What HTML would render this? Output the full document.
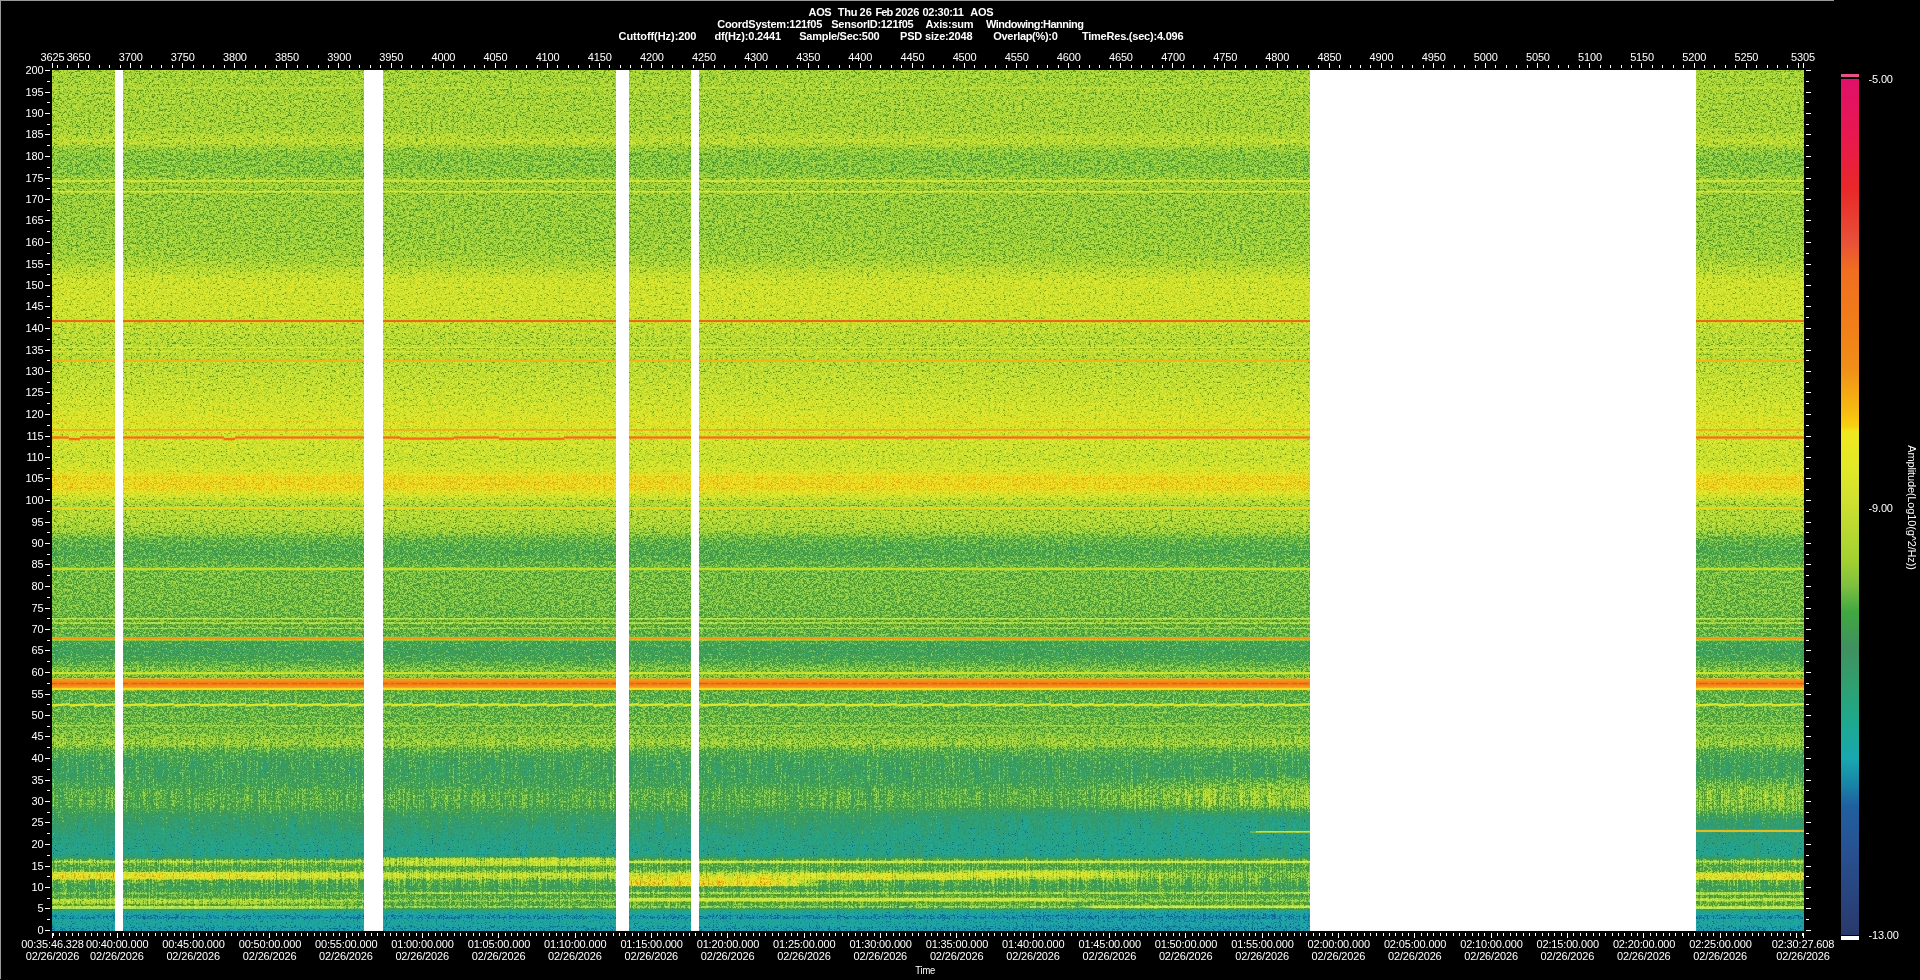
<!DOCTYPE html>
<html><head><meta charset="utf-8"><title>Spectrogram</title>
<style>
html,body{margin:0;padding:0;background:#000;}
body{width:1920px;height:980px;position:relative;overflow:hidden;font-family:"Liberation Sans",sans-serif;}
#ov{position:absolute;left:0;top:0}
#ov text{font-family:"Liberation Sans",sans-serif;font-size:11px;fill:#fff;letter-spacing:-0.15px}
#ov rect{shape-rendering:crispEdges}
.cb{position:absolute;left:1841px;top:79px;width:18px;height:856px;background:linear-gradient(to bottom,rgb(224,16,106) 0.00%,rgb(232,24,80) 6.54%,rgb(232,40,40) 12.85%,rgb(232,80,56) 18.93%,rgb(240,110,32) 22.31%,rgb(240,128,24) 29.32%,rgb(240,144,24) 34.00%,rgb(248,192,16) 39.25%,rgb(248,208,16) 40.54%,rgb(240,232,32) 41.24%,rgb(224,232,40) 45.68%,rgb(208,224,48) 49.18%,rgb(160,208,48) 56.43%,rgb(128,192,64) 59.11%,rgb(64,168,64) 62.27%,rgb(64,144,96) 66.47%,rgb(48,160,112) 70.91%,rgb(32,168,136) 74.30%,rgb(24,168,176) 79.32%,rgb(24,136,168) 82.13%,rgb(32,96,160) 84.93%,rgb(40,80,144) 90.54%,rgb(40,60,112) 98.95%,rgb(40,56,108) 100.00%)}
</style></head><body>
<div style="position:absolute;left:0;top:0;width:1834px;height:1px;background:#999"></div>
<div style="position:absolute;left:0;top:0;width:1px;height:979px;background:#999"></div>
<div style="position:absolute;left:52px;top:70px;width:1752px;height:861px;overflow:hidden;background:#9c3"><svg style="position:absolute;left:-5px;top:-5px" width="1762" height="871" viewBox="-5 -5 1762 871">
<defs>
<linearGradient id="g0" gradientUnits="userSpaceOnUse" x1="0" y1="0" x2="564" y2="0"><stop offset="0.0000" stop-color="#50cce6" stop-opacity="0.9"/><stop offset="0.3511" stop-color="#50cce6" stop-opacity="0.85"/><stop offset="0.4397" stop-color="#50cce6" stop-opacity="0.4"/><stop offset="0.5532" stop-color="#50cce6" stop-opacity="0.3"/><stop offset="0.5869" stop-color="#50cce6" stop-opacity="0"/><stop offset="1.0000" stop-color="#50cce6" stop-opacity="0"/></linearGradient><linearGradient id="g1" gradientUnits="userSpaceOnUse" x1="0" y1="0" x2="208" y2="0"><stop offset="0.0000" stop-color="#55cce6" stop-opacity="0.5"/><stop offset="0.8558" stop-color="#55cce6" stop-opacity="0.6"/><stop offset="1.0000" stop-color="#55cce6" stop-opacity="0"/></linearGradient><linearGradient id="g2" gradientUnits="userSpaceOnUse" x1="577" y1="0" x2="778" y2="0"><stop offset="0.0000" stop-color="#52cce6" stop-opacity="0.85"/><stop offset="0.7512" stop-color="#52cce6" stop-opacity="0.8"/><stop offset="1.0000" stop-color="#52cce6" stop-opacity="0"/></linearGradient><linearGradient id="g3" gradientUnits="userSpaceOnUse" x1="577" y1="0" x2="748" y2="0"><stop offset="0.0000" stop-color="#63cce6" stop-opacity="0.6"/><stop offset="0.7661" stop-color="#63cce6" stop-opacity="0.5"/><stop offset="1.0000" stop-color="#63cce6" stop-opacity="0"/></linearGradient><linearGradient id="g4" gradientUnits="userSpaceOnUse" x1="728" y1="0" x2="948" y2="0"><stop offset="0.0000" stop-color="#50cce6" stop-opacity="0"/><stop offset="0.2273" stop-color="#50cce6" stop-opacity="0.75"/><stop offset="0.8182" stop-color="#50cce6" stop-opacity="0.7"/><stop offset="1.0000" stop-color="#50cce6" stop-opacity="0"/></linearGradient><linearGradient id="g5" gradientUnits="userSpaceOnUse" x1="888" y1="0" x2="1128" y2="0"><stop offset="0.0000" stop-color="#4acce6" stop-opacity="0"/><stop offset="0.1667" stop-color="#4acce6" stop-opacity="0.7"/><stop offset="0.6250" stop-color="#4acce6" stop-opacity="0.6"/><stop offset="1.0000" stop-color="#4acce6" stop-opacity="0"/></linearGradient><linearGradient id="g6" gradientUnits="userSpaceOnUse" x1="1644" y1="0" x2="1752" y2="0"><stop offset="0.0000" stop-color="#50cce6" stop-opacity="0.95"/><stop offset="1.0000" stop-color="#50cce6" stop-opacity="0.95"/></linearGradient><linearGradient id="g7" gradientUnits="userSpaceOnUse" x1="1644" y1="0" x2="1752" y2="0"><stop offset="0.0000" stop-color="#4eb2cc" stop-opacity="0.75"/><stop offset="1.0000" stop-color="#4eb2cc" stop-opacity="0.75"/></linearGradient><linearGradient id="g8" gradientUnits="userSpaceOnUse" x1="1644" y1="0" x2="1752" y2="0"><stop offset="0.0000" stop-color="#4fb2cc" stop-opacity="0.8"/><stop offset="1.0000" stop-color="#4fb2cc" stop-opacity="0.8"/></linearGradient><linearGradient id="g9" gradientUnits="userSpaceOnUse" x1="1644" y1="0" x2="1752" y2="0"><stop offset="0.0000" stop-color="#659980" stop-opacity="0.85"/><stop offset="1.0000" stop-color="#659980" stop-opacity="0.85"/></linearGradient><linearGradient id="g10" gradientUnits="userSpaceOnUse" x1="331" y1="0" x2="564" y2="0"><stop offset="0.0000" stop-color="#43cce6" stop-opacity="0.7"/><stop offset="1.0000" stop-color="#43cce6" stop-opacity="0.7"/></linearGradient><linearGradient id="g11" gradientUnits="userSpaceOnUse" x1="577" y1="0" x2="1258" y2="0"><stop offset="0.0000" stop-color="#29cc99" stop-opacity="0.55"/><stop offset="1.0000" stop-color="#29cc99" stop-opacity="0.55"/></linearGradient><linearGradient id="g12" gradientUnits="userSpaceOnUse" x1="577" y1="0" x2="1258" y2="0"><stop offset="0.0000" stop-color="#72664c" stop-opacity="0.85"/><stop offset="1.0000" stop-color="#72664c" stop-opacity="0.85"/></linearGradient><linearGradient id="g13" gradientUnits="userSpaceOnUse" x1="577" y1="0" x2="1058" y2="0"><stop offset="0.0000" stop-color="#6f804c" stop-opacity="0.9"/><stop offset="0.8753" stop-color="#6f804c" stop-opacity="0.85"/><stop offset="1.0000" stop-color="#6f804c" stop-opacity="0"/></linearGradient><linearGradient id="g14" gradientUnits="userSpaceOnUse" x1="0" y1="0" x2="312" y2="0"><stop offset="0.0000" stop-color="#40cce6" stop-opacity="0.7"/><stop offset="0.6346" stop-color="#40cce6" stop-opacity="0.6"/><stop offset="1.0000" stop-color="#40cce6" stop-opacity="0.2"/></linearGradient><linearGradient id="g15" gradientUnits="userSpaceOnUse" x1="1033" y1="0" x2="1258" y2="0"><stop offset="0.0000" stop-color="#738033" stop-opacity="0"/><stop offset="0.0444" stop-color="#738033" stop-opacity="0.9"/><stop offset="1.0000" stop-color="#738033" stop-opacity="0.9"/></linearGradient><linearGradient id="g16" gradientUnits="userSpaceOnUse" x1="0" y1="0" x2="312" y2="0"><stop offset="0.0000" stop-color="#69994c" stop-opacity="0.8"/><stop offset="0.4744" stop-color="#69994c" stop-opacity="0.7"/><stop offset="1.0000" stop-color="#69994c" stop-opacity="0.3"/></linearGradient><linearGradient id="g17" gradientUnits="userSpaceOnUse" x1="331" y1="0" x2="1258" y2="0"><stop offset="0.0000" stop-color="#41ffcc" stop-opacity="0.5"/><stop offset="1.0000" stop-color="#41ffcc" stop-opacity="0.6"/></linearGradient><linearGradient id="g18" gradientUnits="userSpaceOnUse" x1="1198" y1="0" x2="1258" y2="0"><stop offset="0.0000" stop-color="#854c00" stop-opacity="0"/><stop offset="0.1333" stop-color="#854c00" stop-opacity="0.95"/><stop offset="1.0000" stop-color="#854c00" stop-opacity="0.95"/></linearGradient><linearGradient id="g19" gradientUnits="userSpaceOnUse" x1="998" y1="0" x2="1258" y2="0"><stop offset="0.0000" stop-color="#33ffe6" stop-opacity="0"/><stop offset="0.7692" stop-color="#33ffe6" stop-opacity="0.10822"/><stop offset="1.0000" stop-color="#33ffe6" stop-opacity="0.139719"/></linearGradient><linearGradient id="g20" gradientUnits="userSpaceOnUse" x1="998" y1="0" x2="1258" y2="0"><stop offset="0.0000" stop-color="#33ffe6" stop-opacity="0"/><stop offset="0.7692" stop-color="#33ffe6" stop-opacity="0.10822"/><stop offset="1.0000" stop-color="#33ffe6" stop-opacity="0.139719"/></linearGradient><linearGradient id="g21" gradientUnits="userSpaceOnUse" x1="998" y1="0" x2="1258" y2="0"><stop offset="0.0000" stop-color="#33ffe6" stop-opacity="0"/><stop offset="0.7692" stop-color="#33ffe6" stop-opacity="0.10822"/><stop offset="1.0000" stop-color="#33ffe6" stop-opacity="0.139719"/></linearGradient><linearGradient id="g22" gradientUnits="userSpaceOnUse" x1="998" y1="0" x2="1258" y2="0"><stop offset="0.0000" stop-color="#33ffe6" stop-opacity="0"/><stop offset="0.7692" stop-color="#33ffe6" stop-opacity="0.10822"/><stop offset="1.0000" stop-color="#33ffe6" stop-opacity="0.139719"/></linearGradient><linearGradient id="g23" gradientUnits="userSpaceOnUse" x1="998" y1="0" x2="1258" y2="0"><stop offset="0.0000" stop-color="#33ffe6" stop-opacity="0"/><stop offset="0.7692" stop-color="#33ffe6" stop-opacity="0.10822"/><stop offset="1.0000" stop-color="#33ffe6" stop-opacity="0.139719"/></linearGradient><linearGradient id="g24" gradientUnits="userSpaceOnUse" x1="998" y1="0" x2="1258" y2="0"><stop offset="0.0000" stop-color="#33ffe6" stop-opacity="0"/><stop offset="0.7692" stop-color="#33ffe6" stop-opacity="0.10822"/><stop offset="1.0000" stop-color="#33ffe6" stop-opacity="0.139719"/></linearGradient><linearGradient id="g25" gradientUnits="userSpaceOnUse" x1="998" y1="0" x2="1258" y2="0"><stop offset="0.0000" stop-color="#33ffe6" stop-opacity="0"/><stop offset="0.7692" stop-color="#33ffe6" stop-opacity="0.10822"/><stop offset="1.0000" stop-color="#33ffe6" stop-opacity="0.139719"/></linearGradient><linearGradient id="g26" gradientUnits="userSpaceOnUse" x1="998" y1="0" x2="1258" y2="0"><stop offset="0.0000" stop-color="#33ffe6" stop-opacity="0"/><stop offset="0.7692" stop-color="#33ffe6" stop-opacity="0.10822"/><stop offset="1.0000" stop-color="#33ffe6" stop-opacity="0.139719"/></linearGradient><linearGradient id="g27" gradientUnits="userSpaceOnUse" x1="798" y1="0" x2="1258" y2="0"><stop offset="0.0000" stop-color="#0db299" stop-opacity="0"/><stop offset="0.4348" stop-color="#0db299" stop-opacity="0.112696"/><stop offset="1.0000" stop-color="#0db299" stop-opacity="0.129449"/></linearGradient><linearGradient id="g28" gradientUnits="userSpaceOnUse" x1="798" y1="0" x2="1258" y2="0"><stop offset="0.0000" stop-color="#0db299" stop-opacity="0"/><stop offset="0.4348" stop-color="#0db299" stop-opacity="0.112696"/><stop offset="1.0000" stop-color="#0db299" stop-opacity="0.129449"/></linearGradient><linearGradient id="g29" gradientUnits="userSpaceOnUse" x1="798" y1="0" x2="1258" y2="0"><stop offset="0.0000" stop-color="#0db299" stop-opacity="0"/><stop offset="0.4348" stop-color="#0db299" stop-opacity="0.112696"/><stop offset="1.0000" stop-color="#0db299" stop-opacity="0.129449"/></linearGradient><linearGradient id="g30" gradientUnits="userSpaceOnUse" x1="798" y1="0" x2="1258" y2="0"><stop offset="0.0000" stop-color="#0db299" stop-opacity="0"/><stop offset="0.4348" stop-color="#0db299" stop-opacity="0.112696"/><stop offset="1.0000" stop-color="#0db299" stop-opacity="0.129449"/></linearGradient><linearGradient id="g31" gradientUnits="userSpaceOnUse" x1="798" y1="0" x2="1258" y2="0"><stop offset="0.0000" stop-color="#0db299" stop-opacity="0"/><stop offset="0.4348" stop-color="#0db299" stop-opacity="0.112696"/><stop offset="1.0000" stop-color="#0db299" stop-opacity="0.129449"/></linearGradient><linearGradient id="g32" gradientUnits="userSpaceOnUse" x1="798" y1="0" x2="1258" y2="0"><stop offset="0.0000" stop-color="#0c994c" stop-opacity="0"/><stop offset="0.4348" stop-color="#0c994c" stop-opacity="0.3"/><stop offset="1.0000" stop-color="#0c994c" stop-opacity="0.3"/></linearGradient><linearGradient id="g33" gradientUnits="userSpaceOnUse" x1="1644" y1="0" x2="1752" y2="0"><stop offset="0.0000" stop-color="#33ffe6" stop-opacity="0.082996"/><stop offset="1.0000" stop-color="#33ffe6" stop-opacity="0.082996"/></linearGradient><linearGradient id="g34" gradientUnits="userSpaceOnUse" x1="1644" y1="0" x2="1752" y2="0"><stop offset="0.0000" stop-color="#33ffe6" stop-opacity="0.082996"/><stop offset="1.0000" stop-color="#33ffe6" stop-opacity="0.082996"/></linearGradient><linearGradient id="g35" gradientUnits="userSpaceOnUse" x1="1644" y1="0" x2="1752" y2="0"><stop offset="0.0000" stop-color="#33ffe6" stop-opacity="0.082996"/><stop offset="1.0000" stop-color="#33ffe6" stop-opacity="0.082996"/></linearGradient><linearGradient id="g36" gradientUnits="userSpaceOnUse" x1="1644" y1="0" x2="1752" y2="0"><stop offset="0.0000" stop-color="#33ffe6" stop-opacity="0.082996"/><stop offset="1.0000" stop-color="#33ffe6" stop-opacity="0.082996"/></linearGradient><linearGradient id="g37" gradientUnits="userSpaceOnUse" x1="1644" y1="0" x2="1752" y2="0"><stop offset="0.0000" stop-color="#33ffe6" stop-opacity="0.082996"/><stop offset="1.0000" stop-color="#33ffe6" stop-opacity="0.082996"/></linearGradient><linearGradient id="g38" gradientUnits="userSpaceOnUse" x1="1644" y1="0" x2="1752" y2="0"><stop offset="0.0000" stop-color="#33ffe6" stop-opacity="0.082996"/><stop offset="1.0000" stop-color="#33ffe6" stop-opacity="0.082996"/></linearGradient><linearGradient id="g39" gradientUnits="userSpaceOnUse" x1="1644" y1="0" x2="1752" y2="0"><stop offset="0.0000" stop-color="#33ffe6" stop-opacity="0.082996"/><stop offset="1.0000" stop-color="#33ffe6" stop-opacity="0.082996"/></linearGradient><linearGradient id="g40" gradientUnits="userSpaceOnUse" x1="1644" y1="0" x2="1752" y2="0"><stop offset="0.0000" stop-color="#33ffe6" stop-opacity="0.082996"/><stop offset="1.0000" stop-color="#33ffe6" stop-opacity="0.082996"/></linearGradient><linearGradient id="g41" gradientUnits="userSpaceOnUse" x1="1038" y1="0" x2="1258" y2="0"><stop offset="0.0000" stop-color="#21e6cc" stop-opacity="0"/><stop offset="0.4091" stop-color="#21e6cc" stop-opacity="0.29527"/><stop offset="1.0000" stop-color="#21e6cc" stop-opacity="0.330567"/></linearGradient><linearGradient id="g42" gradientUnits="userSpaceOnUse" x1="1038" y1="0" x2="1258" y2="0"><stop offset="0.0000" stop-color="#21e6cc" stop-opacity="0"/><stop offset="0.4091" stop-color="#21e6cc" stop-opacity="0.29527"/><stop offset="1.0000" stop-color="#21e6cc" stop-opacity="0.330567"/></linearGradient><linearGradient id="g43" gradientUnits="userSpaceOnUse" x1="1038" y1="0" x2="1258" y2="0"><stop offset="0.0000" stop-color="#21e6cc" stop-opacity="0"/><stop offset="0.4091" stop-color="#21e6cc" stop-opacity="0.29527"/><stop offset="1.0000" stop-color="#21e6cc" stop-opacity="0.330567"/></linearGradient>
<linearGradient id="pg" gradientUnits="userSpaceOnUse" x1="0" y1="0" x2="0" y2="861"><stop offset="0.0006" stop-color="#52ff00"/><stop offset="0.0705" stop-color="#52ff00"/><stop offset="0.0780" stop-color="#58ff00"/><stop offset="0.0840" stop-color="#5aff00"/><stop offset="0.0905" stop-color="#4fff00"/><stop offset="0.1005" stop-color="#49ff00"/><stop offset="0.1204" stop-color="#4aff00"/><stop offset="0.1254" stop-color="#4fff00"/><stop offset="0.1404" stop-color="#4fff00"/><stop offset="0.1454" stop-color="#4eff00"/><stop offset="0.1904" stop-color="#4eff00"/><stop offset="0.2003" stop-color="#4fff00"/><stop offset="0.2153" stop-color="#50ff00"/><stop offset="0.2253" stop-color="#54ff00"/><stop offset="0.2353" stop-color="#5bff00"/><stop offset="0.2453" stop-color="#62ff00"/><stop offset="0.2503" stop-color="#62ff00"/><stop offset="0.2753" stop-color="#62ff00"/><stop offset="0.2877" stop-color="#60ff00"/><stop offset="0.3002" stop-color="#5bff00"/><stop offset="0.3152" stop-color="#58ff00"/><stop offset="0.3302" stop-color="#58ff00"/><stop offset="0.3502" stop-color="#5bff00"/><stop offset="0.3751" stop-color="#5fff00"/><stop offset="0.4001" stop-color="#65ff00"/><stop offset="0.4151" stop-color="#68ff00"/><stop offset="0.4351" stop-color="#62ff00"/><stop offset="0.4501" stop-color="#5fff00"/><stop offset="0.4650" stop-color="#65ff00"/><stop offset="0.4725" stop-color="#72ff00"/><stop offset="0.4850" stop-color="#73ff00"/><stop offset="0.4925" stop-color="#68ff00"/><stop offset="0.5000" stop-color="#5bff00"/><stop offset="0.5050" stop-color="#53ff00"/><stop offset="0.5150" stop-color="#57ff00"/><stop offset="0.5200" stop-color="#57ff00"/><stop offset="0.5350" stop-color="#50ff00"/><stop offset="0.5449" stop-color="#43ff00"/><stop offset="0.5599" stop-color="#3dff00"/><stop offset="0.5699" stop-color="#40ff00"/><stop offset="0.5759" stop-color="#43ff00"/><stop offset="0.5799" stop-color="#45ff00"/><stop offset="0.5999" stop-color="#46ff00"/><stop offset="0.6249" stop-color="#45ff00"/><stop offset="0.6448" stop-color="#40ff00"/><stop offset="0.6548" stop-color="#42ff00"/><stop offset="0.6648" stop-color="#3bff00"/><stop offset="0.6748" stop-color="#37ff00"/><stop offset="0.6848" stop-color="#3bff00"/><stop offset="0.6948" stop-color="#47ff00"/><stop offset="0.6998" stop-color="#4aff00"/><stop offset="0.7247" stop-color="#40ff00"/><stop offset="0.7297" stop-color="#40ff00"/><stop offset="0.7497" stop-color="#43ff00"/><stop offset="0.7647" stop-color="#45ff00"/><stop offset="0.7747" stop-color="#41ff38"/><stop offset="0.7822" stop-color="#40ff62"/><stop offset="0.7897" stop-color="#2aff8c"/><stop offset="0.7997" stop-color="#22ff8c"/><stop offset="0.8146" stop-color="#1fff8c"/><stop offset="0.8296" stop-color="#22ff8c"/><stop offset="0.8396" stop-color="#2bf28c"/><stop offset="0.8546" stop-color="#2cdf8c"/><stop offset="0.8646" stop-color="#23d98c"/><stop offset="0.8746" stop-color="#1dd98c"/><stop offset="0.8895" stop-color="#15d98c"/><stop offset="0.8995" stop-color="#12d98c"/><stop offset="0.9095" stop-color="#0fd98c"/><stop offset="0.9145" stop-color="#17d98c"/><stop offset="0.9175" stop-color="#1ed9ff"/><stop offset="0.9195" stop-color="#3bd9ff"/><stop offset="0.9215" stop-color="#21d9ff"/><stop offset="0.9270" stop-color="#2ad98c"/><stop offset="0.9305" stop-color="#21d9ff"/><stop offset="0.9335" stop-color="#3bd9ff"/><stop offset="0.9375" stop-color="#3bd9ff"/><stop offset="0.9410" stop-color="#1ed9ff"/><stop offset="0.9495" stop-color="#27d98c"/><stop offset="0.9545" stop-color="#2ad98c"/><stop offset="0.9560" stop-color="#3ad98c"/><stop offset="0.9580" stop-color="#2ad98c"/><stop offset="0.9625" stop-color="#30d98c"/><stop offset="0.9645" stop-color="#3dd98c"/><stop offset="0.9670" stop-color="#2dd98c"/><stop offset="0.9705" stop-color="#30d98c"/><stop offset="0.9720" stop-color="#43d98c"/><stop offset="0.9739" stop-color="#27d98c"/><stop offset="0.9759" stop-color="#259940"/><stop offset="0.9794" stop-color="#1e9940"/><stop offset="0.9829" stop-color="#119940"/><stop offset="0.9854" stop-color="#109940"/><stop offset="0.9874" stop-color="#1e9940"/><stop offset="0.9919" stop-color="#1e9940"/><stop offset="0.9954" stop-color="#159940"/><stop offset="0.9994" stop-color="#159940"/></linearGradient>
<filter id="cm" x="-5" y="-5" width="1762" height="871" filterUnits="userSpaceOnUse" color-interpolation-filters="sRGB">
<feTurbulence type="fractalNoise" baseFrequency="0.78 0.82" numOctaves="1" seed="7" result="na"/>
<feTurbulence type="fractalNoise" baseFrequency="0.33 0.36" numOctaves="1" seed="11" result="nb"/>
<feComposite in="na" in2="nb" operator="arithmetic" k1="0" k2="0.62" k3="0.38" k4="0" result="n"/>
<feColorMatrix in="n" type="matrix" values="1 0 0 0 0  1 0 0 0 0  1 0 0 0 0  0 0 0 0 1" result="ng0"/>
<feComponentTransfer in="ng0" result="ng"><feFuncR type="table" tableValues="0.000 0.000 0.000 0.000 0.000 0.000 0.000 0.000 0.000 0.000 0.000 0.000 0.000 0.000 0.000 0.000 0.000 0.000 0.000 0.000 0.006 0.011 0.037 0.111 0.181 0.247 0.308 0.365 0.418 0.468 0.514 0.558 0.599 0.638 0.674 0.709 0.741 0.772 0.802 0.830 0.857 0.883 0.908 0.931 0.954 0.976 0.992 1.000 1.000 1.000 1.000 1.000 1.000 1.000 1.000 1.000 1.000 1.000 1.000 1.000 1.000 1.000 1.000 1.000 1.000"/><feFuncG type="table" tableValues="0.000 0.000 0.000 0.000 0.000 0.000 0.000 0.000 0.000 0.000 0.000 0.000 0.000 0.000 0.000 0.000 0.000 0.000 0.000 0.000 0.006 0.011 0.037 0.111 0.181 0.247 0.308 0.365 0.418 0.468 0.514 0.558 0.599 0.638 0.674 0.709 0.741 0.772 0.802 0.830 0.857 0.883 0.908 0.931 0.954 0.976 0.992 1.000 1.000 1.000 1.000 1.000 1.000 1.000 1.000 1.000 1.000 1.000 1.000 1.000 1.000 1.000 1.000 1.000 1.000"/><feFuncB type="table" tableValues="0.000 0.000 0.000 0.000 0.000 0.000 0.000 0.000 0.000 0.000 0.000 0.000 0.000 0.000 0.000 0.000 0.000 0.000 0.000 0.000 0.006 0.011 0.037 0.111 0.181 0.247 0.308 0.365 0.418 0.468 0.514 0.558 0.599 0.638 0.674 0.709 0.741 0.772 0.802 0.830 0.857 0.883 0.908 0.931 0.954 0.976 0.992 1.000 1.000 1.000 1.000 1.000 1.000 1.000 1.000 1.000 1.000 1.000 1.000 1.000 1.000 1.000 1.000 1.000 1.000"/></feComponentTransfer>
<feTurbulence type="fractalNoise" baseFrequency="0.7 0.035" numOctaves="2" seed="3" result="n2"/>
<feColorMatrix in="n2" type="matrix" values="1 0 0 0 0  1 0 0 0 0  1 0 0 0 0  0 0 0 0 1" result="ng2"/>
<feColorMatrix in="SourceGraphic" type="matrix" values="1 0 0 0 0  1 0 0 0 0  1 0 0 0 0  0 0 0 0 1" result="A"/>
<feColorMatrix in="SourceGraphic" type="matrix" values="0 1 0 0 0  0 1 0 0 0  0 1 0 0 0  0 0 0 0 1" result="M"/>
<feColorMatrix in="SourceGraphic" type="matrix" values="0 0 1 0 0  0 0 1 0 0  0 0 1 0 0  0 0 0 0 1" result="B"/>
<feComposite in="M" in2="ng" operator="arithmetic" k1="1" k2="0" k3="0" k4="0" result="P"/>
<feComposite in="B" in2="ng2" operator="arithmetic" k1="1" k2="0" k3="0" k4="0" result="P2"/>
<feComposite in="A" in2="P" operator="arithmetic" k1="0" k2="1" k3="0.2200" k4="0" result="s1"/>
<feComposite in="s1" in2="P2" operator="arithmetic" k1="0" k2="1" k3="0.3200" k4="0" result="s"/>
<feComponentTransfer in="s" result="c">
<feFuncR type="table" tableValues="0.157 0.157 0.157 0.157 0.157 0.157 0.157 0.157 0.157 0.157 0.157 0.157 0.157 0.153 0.149 0.144 0.140 0.135 0.131 0.127 0.119 0.111 0.102 0.094 0.094 0.094 0.094 0.097 0.102 0.106 0.111 0.116 0.121 0.127 0.141 0.156 0.170 0.185 0.197 0.208 0.219 0.230 0.241 0.251 0.251 0.251 0.251 0.251 0.251 0.295 0.357 0.419 0.481 0.526 0.563 0.599 0.632 0.652 0.673 0.693 0.713 0.734 0.754 0.774 0.794 0.815 0.829 0.843 0.857 0.871 0.884 0.895 0.906 0.917 0.928 0.939 0.969 0.973 0.971 0.967 0.962 0.957 0.953 0.948 0.943 0.941 0.941 0.941 0.941 0.941 0.941 0.941 0.941 0.941 0.941 0.941 0.941 0.941 0.941 0.941 0.937 0.930 0.923 0.915 0.910 0.910 0.910 0.910 0.910 0.910 0.910 0.910 0.910 0.910 0.910 0.910 0.910 0.910 0.910 0.910 0.908 0.905 0.901 0.897 0.893 0.890 0.886 0.882 0.878"/>
<feFuncG type="table" tableValues="0.220 0.231 0.240 0.247 0.255 0.262 0.269 0.276 0.284 0.291 0.298 0.306 0.313 0.321 0.330 0.339 0.348 0.356 0.365 0.374 0.408 0.451 0.495 0.538 0.573 0.608 0.642 0.659 0.659 0.659 0.659 0.659 0.659 0.658 0.651 0.644 0.636 0.629 0.619 0.608 0.597 0.586 0.575 0.566 0.584 0.601 0.619 0.636 0.654 0.675 0.698 0.722 0.745 0.765 0.783 0.802 0.817 0.824 0.831 0.838 0.844 0.851 0.858 0.865 0.871 0.878 0.885 0.892 0.899 0.906 0.910 0.910 0.910 0.910 0.910 0.910 0.827 0.782 0.746 0.718 0.690 0.662 0.634 0.606 0.578 0.559 0.549 0.538 0.528 0.517 0.507 0.498 0.490 0.482 0.474 0.466 0.458 0.451 0.443 0.435 0.416 0.389 0.362 0.335 0.309 0.289 0.269 0.249 0.229 0.208 0.188 0.168 0.153 0.146 0.138 0.130 0.122 0.115 0.107 0.099 0.093 0.089 0.085 0.081 0.078 0.074 0.070 0.066 0.063"/>
<feFuncB type="table" tableValues="0.424 0.435 0.447 0.458 0.470 0.482 0.493 0.505 0.517 0.528 0.540 0.552 0.563 0.572 0.581 0.590 0.599 0.607 0.616 0.625 0.634 0.642 0.651 0.660 0.669 0.677 0.686 0.677 0.653 0.628 0.604 0.580 0.555 0.531 0.509 0.488 0.466 0.444 0.431 0.420 0.409 0.398 0.387 0.375 0.351 0.328 0.305 0.281 0.258 0.251 0.251 0.251 0.251 0.239 0.221 0.202 0.188 0.188 0.188 0.188 0.188 0.188 0.188 0.188 0.188 0.188 0.182 0.175 0.168 0.161 0.154 0.149 0.143 0.138 0.132 0.127 0.071 0.063 0.064 0.069 0.073 0.078 0.083 0.087 0.092 0.094 0.094 0.094 0.094 0.094 0.094 0.096 0.099 0.103 0.106 0.110 0.113 0.117 0.120 0.124 0.138 0.159 0.181 0.203 0.218 0.210 0.202 0.194 0.186 0.177 0.169 0.161 0.166 0.185 0.204 0.224 0.243 0.263 0.282 0.302 0.318 0.330 0.343 0.355 0.367 0.379 0.391 0.404 0.416"/>
</feComponentTransfer>
<feGaussianBlur in="c" stdDeviation="1.6" result="cb"/>
<feColorMatrix in="c" type="matrix" values="0.299 0.587 0.114 0 0  0.299 0.587 0.114 0 0  0.299 0.587 0.114 0 0  0 0 0 0 1" result="Yc"/>
<feColorMatrix in="cb" type="matrix" values="-0.299 -0.587 -0.114 0 1  -0.299 -0.587 -0.114 0 1  -0.299 -0.587 -0.114 0 1  0 0 0 0 1" result="Ncb"/>
<feComposite in="cb" in2="Yc" operator="arithmetic" k1="0" k2="0.5" k3="0.5" k4="0" result="t1"/>
<feComposite in="t1" in2="Ncb" operator="arithmetic" k1="0" k2="1" k3="0.5" k4="-0.5" result="t2"/>
<feComponentTransfer in="t2" result="fin"><feFuncR type="linear" slope="2"/><feFuncG type="linear" slope="2"/><feFuncB type="linear" slope="2"/></feComponentTransfer>
<feGaussianBlur in="fin" stdDeviation="0.35"/>
</filter>
<filter id="lb" x="-5" y="-5" width="1762" height="871" filterUnits="userSpaceOnUse"><feGaussianBlur stdDeviation="0 0.45"/></filter>
</defs>
<g filter="url(#cm)">
<rect x="-5" y="-5" width="1762" height="871" fill="url(#pg)"/>
<rect x="0" y="17.53" width="1752" height="1.20" fill="#68b200"/><rect x="0" y="110.26" width="1752" height="1.50" fill="#75b200"/><rect x="0" y="121.01" width="1752" height="1.50" fill="#72b200"/><rect x="0" y="276.92" width="1752" height="1.00" fill="#75b200"/><rect x="0" y="281.22" width="1752" height="1.00" fill="#72b200"/><rect x="0" y="350.88" width="1752" height="1.00" fill="#82b200"/><rect x="0" y="655.22" width="1752" height="1.20" fill="#60b200"/><rect x="0" y="548.10" width="1752" height="1.30" fill="#70b200"/><rect x="0" y="552.40" width="1752" height="1.30" fill="#6db200"/><rect x="0" y="557.71" width="1752" height="1.00" fill="#65b200"/><rect x="0" y="608.73" width="1752" height="10.97" fill="#985900"/><rect x="0" y="611.53" width="1752" height="4.30" fill="#a55900"/><rect x="0" y="617.55" width="1752" height="2.15" fill="#8e4c00"/><rect x="0" y="802.02" width="564" height="7.31" fill="url(#g0)"/><rect x="0" y="803.31" width="208" height="4.73" fill="url(#g1)"/><rect x="577" y="806.32" width="201" height="9.89" fill="url(#g2)"/><rect x="577" y="811.48" width="171" height="4.30" fill="url(#g3)"/><rect x="728" y="803.74" width="220" height="6.02" fill="url(#g4)"/><rect x="888" y="800.30" width="240" height="6.02" fill="url(#g5)"/><rect x="1644" y="802.88" width="108" height="6.88" fill="url(#g6)"/><rect x="1644" y="822.23" width="108" height="2.58" fill="url(#g7)"/><rect x="1644" y="828.25" width="108" height="2.58" fill="url(#g8)"/><rect x="1644" y="836.42" width="108" height="2.58" fill="url(#g9)"/><rect x="331" y="787.40" width="233" height="8.60" fill="url(#g10)"/><rect x="577" y="787.40" width="681" height="8.60" fill="url(#g11)"/><rect x="577" y="790.84" width="681" height="2.36" fill="url(#g12)"/><rect x="577" y="827.82" width="481" height="3.44" fill="url(#g13)"/><rect x="0" y="828.68" width="312" height="5.16" fill="url(#g14)"/><rect x="1033" y="835.56" width="225" height="2.58" fill="url(#g15)"/><rect x="0" y="835.99" width="312" height="3.01" fill="url(#g16)"/><rect x="331" y="821.80" width="927" height="2.15" fill="url(#g17)"/><rect x="1198" y="760.95" width="60" height="1.72" fill="url(#g18)"/><rect x="998" y="705.70" width="260" height="43.00" fill="url(#g19)"/><rect x="998" y="707.91" width="260" height="38.58" fill="url(#g20)"/><rect x="998" y="710.12" width="260" height="34.15" fill="url(#g21)"/><rect x="998" y="712.33" width="260" height="29.73" fill="url(#g22)"/><rect x="998" y="714.55" width="260" height="25.31" fill="url(#g23)"/><rect x="998" y="716.76" width="260" height="20.89" fill="url(#g24)"/><rect x="998" y="718.97" width="260" height="16.46" fill="url(#g25)"/><rect x="998" y="721.18" width="260" height="12.04" fill="url(#g26)"/><rect x="798" y="735.80" width="460" height="52.46" fill="url(#g27)"/><rect x="798" y="738.49" width="460" height="47.08" fill="url(#g28)"/><rect x="798" y="741.17" width="460" height="41.71" fill="url(#g29)"/><rect x="798" y="743.86" width="460" height="36.33" fill="url(#g30)"/><rect x="798" y="746.55" width="460" height="30.96" fill="url(#g31)"/><rect x="798" y="839.86" width="460" height="20.64" fill="url(#g32)"/><rect x="1644" y="705.70" width="108" height="43.00" fill="url(#g33)"/><rect x="1644" y="707.91" width="108" height="38.58" fill="url(#g34)"/><rect x="1644" y="710.12" width="108" height="34.15" fill="url(#g35)"/><rect x="1644" y="712.33" width="108" height="29.73" fill="url(#g36)"/><rect x="1644" y="714.55" width="108" height="25.31" fill="url(#g37)"/><rect x="1644" y="716.76" width="108" height="20.89" fill="url(#g38)"/><rect x="1644" y="718.97" width="108" height="16.46" fill="url(#g39)"/><rect x="1644" y="721.18" width="108" height="12.04" fill="url(#g40)"/><rect x="1038" y="800.30" width="220" height="10.75" fill="url(#g41)"/><rect x="1038" y="801.38" width="220" height="8.60" fill="url(#g42)"/><rect x="1038" y="802.45" width="220" height="6.45" fill="url(#g43)"/>
</g>
<g filter="url(#lb)"><rect x="0" y="249.32" width="1752" height="3.40" fill="#f4c820" opacity="0.5"/><rect x="0" y="250.17" width="1752" height="1.70" fill="#e85c18"/><rect x="0" y="289.65" width="1752" height="2.20" fill="#f4b418" opacity="0.95"/><rect x="0" y="359.28" width="1752" height="1.40" fill="#f09818" opacity="0.8"/><rect x="0" y="365.40" width="17" height="4.20" fill="#f4c020" opacity="0.4"/><rect x="0" y="366.40" width="17" height="2.20" fill="#f07014"/><rect x="17" y="367.00" width="11" height="4.20" fill="#f4c020" opacity="0.4"/><rect x="17" y="368.00" width="11" height="2.20" fill="#f07014"/><rect x="28" y="365.40" width="144" height="4.20" fill="#f4c020" opacity="0.4"/><rect x="28" y="366.40" width="144" height="2.20" fill="#f07014"/><rect x="172" y="366.90" width="11" height="4.20" fill="#f4c020" opacity="0.4"/><rect x="172" y="367.90" width="11" height="2.20" fill="#f07014"/><rect x="183" y="365.40" width="165" height="4.20" fill="#f4c020" opacity="0.4"/><rect x="183" y="366.40" width="165" height="2.20" fill="#f07014"/><rect x="348" y="366.50" width="54" height="4.20" fill="#f4c020" opacity="0.4"/><rect x="348" y="367.50" width="54" height="2.20" fill="#f07014"/><rect x="402" y="365.40" width="45" height="4.20" fill="#f4c020" opacity="0.4"/><rect x="402" y="366.40" width="45" height="2.20" fill="#f07014"/><rect x="447" y="366.70" width="65" height="4.20" fill="#f4c020" opacity="0.4"/><rect x="447" y="367.70" width="65" height="2.20" fill="#f07014"/><rect x="512" y="365.40" width="341" height="4.20" fill="#f4c020" opacity="0.4"/><rect x="512" y="366.40" width="341" height="2.20" fill="#f07014"/><rect x="853" y="366.40" width="3" height="4.20" fill="#f4c020" opacity="0.4"/><rect x="853" y="367.40" width="3" height="2.20" fill="#f07014"/><rect x="856" y="365.40" width="896" height="4.20" fill="#f4c020" opacity="0.4"/><rect x="856" y="366.40" width="896" height="2.20" fill="#f07014"/><rect x="0" y="436.94" width="1752" height="2.60" fill="#ecd420" opacity="0.9"/><rect x="0" y="497.70" width="1752" height="2.60" fill="#cce424" opacity="0.85"/><rect x="0" y="566.75" width="1752" height="4.00" fill="#e0e828" opacity="0.6"/><rect x="0" y="567.42" width="1752" height="1.80" fill="#f09818"/><rect x="0" y="602.10" width="1752" height="2.00" fill="#d8e828" opacity="0.9"/><rect x="0" y="608.60" width="1752" height="9.20" fill="#f29220" opacity="0.8"/><rect x="0" y="611.60" width="1752" height="3.80" fill="#f07a16" opacity="0.8"/><path d="M0 613.60H1752" stroke="#d84c10" stroke-width="1" stroke-dasharray="5 2 9 3 3 2 12 4" opacity="0.7"/><rect x="0" y="617.80" width="1752" height="2.10" fill="#f2dc20" opacity="0.85"/><path d="M0.0 635.45L18.0 634.15M18.0 635.45L42.5 634.15M42.5 635.45L68.2 634.15M68.2 635.45L94.5 634.15M94.5 635.45L122.2 634.15M122.2 635.45L147.9 634.15M147.9 635.45L175.4 634.15M175.4 635.45L194.0 634.15M194.0 635.45L217.0 634.15M217.0 635.45L244.7 634.15M244.7 635.45L269.5 634.15M269.5 635.45L296.8 634.15M296.8 635.45L316.3 634.15M316.3 635.45L339.2 634.15M339.2 635.45L360.0 634.15M360.0 635.45L383.8 634.15M383.8 635.45L407.8 634.15M407.8 635.45L426.2 634.15M426.2 635.45L446.7 634.15M446.7 635.45L467.8 634.15M467.8 635.45L495.2 634.15M495.2 635.45L521.2 634.15M521.2 635.45L541.1 634.15M541.1 635.45L567.4 634.15M567.4 635.45L587.1 634.15M587.1 635.45L611.5 634.15M611.5 635.45L631.1 634.15M631.1 635.45L649.4 634.15M649.4 635.45L676.4 634.15M676.4 635.45L696.8 634.15M696.8 635.45L717.3 634.15M717.3 635.45L745.4 634.15M745.4 635.45L772.4 634.15M772.4 635.45L793.6 634.15M793.6 635.45L821.5 634.15M821.5 635.45L845.2 634.15M845.2 635.45L870.3 634.15M870.3 635.45L890.7 634.15M890.7 635.45L918.4 634.15M918.4 635.45L943.6 634.15M943.6 635.45L971.5 634.15M971.5 635.45L998.8 634.15M998.8 635.45L1020.1 634.15M1020.1 635.45L1042.0 634.15M1042.0 635.45L1061.9 634.15M1061.9 635.45L1081.7 634.15M1081.7 635.45L1100.6 634.15M1100.6 635.45L1122.0 634.15M1122.0 635.45L1146.3 634.15M1146.3 635.45L1164.6 634.15M1164.6 635.45L1189.7 634.15M1189.7 635.45L1211.4 634.15M1211.4 635.45L1232.8 634.15M1232.8 635.45L1259.3 634.15M1259.3 635.45L1282.4 634.15M1282.4 635.45L1303.8 634.15M1303.8 635.45L1326.9 634.15M1326.9 635.45L1352.3 634.15M1352.3 635.45L1371.2 634.15M1371.2 635.45L1399.2 634.15M1399.2 635.45L1417.7 634.15M1417.7 635.45L1443.5 634.15M1443.5 635.45L1470.3 634.15M1470.3 635.45L1488.8 634.15M1488.8 635.45L1514.9 634.15M1514.9 635.45L1536.9 634.15M1536.9 635.45L1561.0 634.15M1561.0 635.45L1579.4 634.15M1579.4 635.45L1598.1 634.15M1598.1 635.45L1618.3 634.15M1618.3 635.45L1646.1 634.15M1646.1 635.45L1666.4 634.15M1666.4 635.45L1692.2 634.15M1692.2 635.45L1719.8 634.15M1719.8 635.45L1752.0 634.15" stroke="#e2ea28" stroke-width="2.4" fill="none" opacity="0.95"/><path d="M17.5 634.75v-7.4M42.0 634.75v-7.4M67.7 634.75v-8.1M94.0 634.75v-9.1M121.7 634.75v-6.4M147.4 634.75v-9.0M174.9 634.75v-9.2M193.5 634.75v-9.4M216.5 634.75v-6.1M244.2 634.75v-9.8M269.0 634.75v-6.4M296.3 634.75v-7.4M315.8 634.75v-8.4M338.7 634.75v-9.7M359.5 634.75v-7.4M383.3 634.75v-9.7M407.3 634.75v-8.2M425.7 634.75v-7.2M446.2 634.75v-7.3M467.3 634.75v-6.7M494.7 634.75v-6.3M520.7 634.75v-6.6M540.6 634.75v-8.8M566.9 634.75v-10.0M586.6 634.75v-6.6M611.0 634.75v-6.2M630.6 634.75v-9.9M648.9 634.75v-8.1M675.9 634.75v-7.6M696.3 634.75v-6.9M716.8 634.75v-8.4M744.9 634.75v-9.3M771.9 634.75v-7.8M793.1 634.75v-7.7M821.0 634.75v-6.2M844.7 634.75v-9.7M869.8 634.75v-6.1M890.2 634.75v-8.0M917.9 634.75v-9.4M943.1 634.75v-6.5M971.0 634.75v-8.9M998.3 634.75v-9.8M1019.6 634.75v-8.5M1041.5 634.75v-9.2M1061.4 634.75v-6.4M1081.2 634.75v-7.7M1100.1 634.75v-6.6M1121.5 634.75v-9.4M1145.8 634.75v-7.2M1164.1 634.75v-7.8M1189.2 634.75v-10.0M1210.9 634.75v-9.4M1232.3 634.75v-9.9M1258.8 634.75v-7.8M1281.9 634.75v-8.0M1303.3 634.75v-8.9M1326.4 634.75v-7.9M1351.8 634.75v-7.2M1370.7 634.75v-7.6M1398.7 634.75v-6.6M1417.2 634.75v-7.5M1443.0 634.75v-10.0M1469.8 634.75v-9.8M1488.3 634.75v-8.5M1514.4 634.75v-8.0M1536.4 634.75v-7.4M1560.5 634.75v-6.4M1578.9 634.75v-7.1M1597.6 634.75v-9.1M1617.8 634.75v-9.5M1645.6 634.75v-7.4M1665.9 634.75v-9.1M1691.7 634.75v-9.1M1719.3 634.75v-8.8" stroke="#b0e040" stroke-width="1" fill="none" opacity="0.75"/><rect x="1644" y="759.85" width="108" height="2.20" fill="#e8c020" opacity="0.95"/><rect x="1204" y="761.02" width="54" height="1.60" fill="#e4e428" opacity="0.9"/><rect x="1198" y="761.43" width="7" height="1.20" fill="#c8e030" opacity="0.6"/></g>
<rect x="63" y="0" width="8" height="861" fill="#fff"/><rect x="312" y="0" width="19" height="861" fill="#fff"/><rect x="564" y="0" width="13" height="861" fill="#fff"/><rect x="639" y="0" width="8" height="861" fill="#fff"/><rect x="1258" y="0" width="386" height="861" fill="#fff"/>
</svg></div>
<div class="cb"></div>
<div style="position:absolute;left:1841px;top:74px;width:18px;height:3px;background:#e8508a"></div>
<div style="position:absolute;left:1841px;top:936px;width:18px;height:4px;background:#fff"></div>
<svg id="ov" width="1920" height="980" viewBox="0 0 1920 980">
<rect x="52" y="63" width="1" height="5" fill="#fff"/><rect x="57" y="65" width="1" height="3" fill="#fff"/><rect x="67" y="65" width="1" height="3" fill="#fff"/><rect x="78" y="63" width="1" height="5" fill="#fff"/><rect x="88" y="65" width="1" height="3" fill="#fff"/><rect x="99" y="65" width="1" height="3" fill="#fff"/><rect x="109" y="65" width="1" height="3" fill="#fff"/><rect x="120" y="65" width="1" height="3" fill="#fff"/><rect x="130" y="63" width="1" height="5" fill="#fff"/><rect x="140" y="65" width="1" height="3" fill="#fff"/><rect x="151" y="65" width="1" height="3" fill="#fff"/><rect x="161" y="65" width="1" height="3" fill="#fff"/><rect x="172" y="65" width="1" height="3" fill="#fff"/><rect x="182" y="63" width="1" height="5" fill="#fff"/><rect x="193" y="65" width="1" height="3" fill="#fff"/><rect x="203" y="65" width="1" height="3" fill="#fff"/><rect x="213" y="65" width="1" height="3" fill="#fff"/><rect x="224" y="65" width="1" height="3" fill="#fff"/><rect x="234" y="63" width="1" height="5" fill="#fff"/><rect x="245" y="65" width="1" height="3" fill="#fff"/><rect x="255" y="65" width="1" height="3" fill="#fff"/><rect x="265" y="65" width="1" height="3" fill="#fff"/><rect x="276" y="65" width="1" height="3" fill="#fff"/><rect x="286" y="63" width="1" height="5" fill="#fff"/><rect x="297" y="65" width="1" height="3" fill="#fff"/><rect x="307" y="65" width="1" height="3" fill="#fff"/><rect x="318" y="65" width="1" height="3" fill="#fff"/><rect x="328" y="65" width="1" height="3" fill="#fff"/><rect x="338" y="63" width="1" height="5" fill="#fff"/><rect x="349" y="65" width="1" height="3" fill="#fff"/><rect x="359" y="65" width="1" height="3" fill="#fff"/><rect x="370" y="65" width="1" height="3" fill="#fff"/><rect x="380" y="65" width="1" height="3" fill="#fff"/><rect x="391" y="63" width="1" height="5" fill="#fff"/><rect x="401" y="65" width="1" height="3" fill="#fff"/><rect x="411" y="65" width="1" height="3" fill="#fff"/><rect x="422" y="65" width="1" height="3" fill="#fff"/><rect x="432" y="65" width="1" height="3" fill="#fff"/><rect x="443" y="63" width="1" height="5" fill="#fff"/><rect x="453" y="65" width="1" height="3" fill="#fff"/><rect x="464" y="65" width="1" height="3" fill="#fff"/><rect x="474" y="65" width="1" height="3" fill="#fff"/><rect x="484" y="65" width="1" height="3" fill="#fff"/><rect x="495" y="63" width="1" height="5" fill="#fff"/><rect x="505" y="65" width="1" height="3" fill="#fff"/><rect x="516" y="65" width="1" height="3" fill="#fff"/><rect x="526" y="65" width="1" height="3" fill="#fff"/><rect x="537" y="65" width="1" height="3" fill="#fff"/><rect x="547" y="63" width="1" height="5" fill="#fff"/><rect x="557" y="65" width="1" height="3" fill="#fff"/><rect x="568" y="65" width="1" height="3" fill="#fff"/><rect x="578" y="65" width="1" height="3" fill="#fff"/><rect x="589" y="65" width="1" height="3" fill="#fff"/><rect x="599" y="63" width="1" height="5" fill="#fff"/><rect x="609" y="65" width="1" height="3" fill="#fff"/><rect x="620" y="65" width="1" height="3" fill="#fff"/><rect x="630" y="65" width="1" height="3" fill="#fff"/><rect x="641" y="65" width="1" height="3" fill="#fff"/><rect x="651" y="63" width="1" height="5" fill="#fff"/><rect x="662" y="65" width="1" height="3" fill="#fff"/><rect x="672" y="65" width="1" height="3" fill="#fff"/><rect x="682" y="65" width="1" height="3" fill="#fff"/><rect x="693" y="65" width="1" height="3" fill="#fff"/><rect x="703" y="63" width="1" height="5" fill="#fff"/><rect x="714" y="65" width="1" height="3" fill="#fff"/><rect x="724" y="65" width="1" height="3" fill="#fff"/><rect x="735" y="65" width="1" height="3" fill="#fff"/><rect x="745" y="65" width="1" height="3" fill="#fff"/><rect x="755" y="63" width="1" height="5" fill="#fff"/><rect x="766" y="65" width="1" height="3" fill="#fff"/><rect x="776" y="65" width="1" height="3" fill="#fff"/><rect x="787" y="65" width="1" height="3" fill="#fff"/><rect x="797" y="65" width="1" height="3" fill="#fff"/><rect x="808" y="63" width="1" height="5" fill="#fff"/><rect x="818" y="65" width="1" height="3" fill="#fff"/><rect x="828" y="65" width="1" height="3" fill="#fff"/><rect x="839" y="65" width="1" height="3" fill="#fff"/><rect x="849" y="65" width="1" height="3" fill="#fff"/><rect x="860" y="63" width="1" height="5" fill="#fff"/><rect x="870" y="65" width="1" height="3" fill="#fff"/><rect x="880" y="65" width="1" height="3" fill="#fff"/><rect x="891" y="65" width="1" height="3" fill="#fff"/><rect x="901" y="65" width="1" height="3" fill="#fff"/><rect x="912" y="63" width="1" height="5" fill="#fff"/><rect x="922" y="65" width="1" height="3" fill="#fff"/><rect x="933" y="65" width="1" height="3" fill="#fff"/><rect x="943" y="65" width="1" height="3" fill="#fff"/><rect x="953" y="65" width="1" height="3" fill="#fff"/><rect x="964" y="63" width="1" height="5" fill="#fff"/><rect x="974" y="65" width="1" height="3" fill="#fff"/><rect x="985" y="65" width="1" height="3" fill="#fff"/><rect x="995" y="65" width="1" height="3" fill="#fff"/><rect x="1006" y="65" width="1" height="3" fill="#fff"/><rect x="1016" y="63" width="1" height="5" fill="#fff"/><rect x="1026" y="65" width="1" height="3" fill="#fff"/><rect x="1037" y="65" width="1" height="3" fill="#fff"/><rect x="1047" y="65" width="1" height="3" fill="#fff"/><rect x="1058" y="65" width="1" height="3" fill="#fff"/><rect x="1068" y="63" width="1" height="5" fill="#fff"/><rect x="1079" y="65" width="1" height="3" fill="#fff"/><rect x="1089" y="65" width="1" height="3" fill="#fff"/><rect x="1099" y="65" width="1" height="3" fill="#fff"/><rect x="1110" y="65" width="1" height="3" fill="#fff"/><rect x="1120" y="63" width="1" height="5" fill="#fff"/><rect x="1131" y="65" width="1" height="3" fill="#fff"/><rect x="1141" y="65" width="1" height="3" fill="#fff"/><rect x="1152" y="65" width="1" height="3" fill="#fff"/><rect x="1162" y="65" width="1" height="3" fill="#fff"/><rect x="1172" y="63" width="1" height="5" fill="#fff"/><rect x="1183" y="65" width="1" height="3" fill="#fff"/><rect x="1193" y="65" width="1" height="3" fill="#fff"/><rect x="1204" y="65" width="1" height="3" fill="#fff"/><rect x="1214" y="65" width="1" height="3" fill="#fff"/><rect x="1224" y="63" width="1" height="5" fill="#fff"/><rect x="1235" y="65" width="1" height="3" fill="#fff"/><rect x="1245" y="65" width="1" height="3" fill="#fff"/><rect x="1256" y="65" width="1" height="3" fill="#fff"/><rect x="1266" y="65" width="1" height="3" fill="#fff"/><rect x="1277" y="63" width="1" height="5" fill="#fff"/><rect x="1287" y="65" width="1" height="3" fill="#fff"/><rect x="1297" y="65" width="1" height="3" fill="#fff"/><rect x="1308" y="65" width="1" height="3" fill="#fff"/><rect x="1318" y="65" width="1" height="3" fill="#fff"/><rect x="1329" y="63" width="1" height="5" fill="#fff"/><rect x="1339" y="65" width="1" height="3" fill="#fff"/><rect x="1350" y="65" width="1" height="3" fill="#fff"/><rect x="1360" y="65" width="1" height="3" fill="#fff"/><rect x="1370" y="65" width="1" height="3" fill="#fff"/><rect x="1381" y="63" width="1" height="5" fill="#fff"/><rect x="1391" y="65" width="1" height="3" fill="#fff"/><rect x="1402" y="65" width="1" height="3" fill="#fff"/><rect x="1412" y="65" width="1" height="3" fill="#fff"/><rect x="1423" y="65" width="1" height="3" fill="#fff"/><rect x="1433" y="63" width="1" height="5" fill="#fff"/><rect x="1443" y="65" width="1" height="3" fill="#fff"/><rect x="1454" y="65" width="1" height="3" fill="#fff"/><rect x="1464" y="65" width="1" height="3" fill="#fff"/><rect x="1475" y="65" width="1" height="3" fill="#fff"/><rect x="1485" y="63" width="1" height="5" fill="#fff"/><rect x="1495" y="65" width="1" height="3" fill="#fff"/><rect x="1506" y="65" width="1" height="3" fill="#fff"/><rect x="1516" y="65" width="1" height="3" fill="#fff"/><rect x="1527" y="65" width="1" height="3" fill="#fff"/><rect x="1537" y="63" width="1" height="5" fill="#fff"/><rect x="1548" y="65" width="1" height="3" fill="#fff"/><rect x="1558" y="65" width="1" height="3" fill="#fff"/><rect x="1568" y="65" width="1" height="3" fill="#fff"/><rect x="1579" y="65" width="1" height="3" fill="#fff"/><rect x="1589" y="63" width="1" height="5" fill="#fff"/><rect x="1600" y="65" width="1" height="3" fill="#fff"/><rect x="1610" y="65" width="1" height="3" fill="#fff"/><rect x="1621" y="65" width="1" height="3" fill="#fff"/><rect x="1631" y="65" width="1" height="3" fill="#fff"/><rect x="1641" y="63" width="1" height="5" fill="#fff"/><rect x="1652" y="65" width="1" height="3" fill="#fff"/><rect x="1662" y="65" width="1" height="3" fill="#fff"/><rect x="1673" y="65" width="1" height="3" fill="#fff"/><rect x="1683" y="65" width="1" height="3" fill="#fff"/><rect x="1694" y="63" width="1" height="5" fill="#fff"/><rect x="1704" y="65" width="1" height="3" fill="#fff"/><rect x="1714" y="65" width="1" height="3" fill="#fff"/><rect x="1725" y="65" width="1" height="3" fill="#fff"/><rect x="1735" y="65" width="1" height="3" fill="#fff"/><rect x="1746" y="63" width="1" height="5" fill="#fff"/><rect x="1756" y="65" width="1" height="3" fill="#fff"/><rect x="1767" y="65" width="1" height="3" fill="#fff"/><rect x="1777" y="65" width="1" height="3" fill="#fff"/><rect x="1787" y="65" width="1" height="3" fill="#fff"/><rect x="1798" y="63" width="1" height="5" fill="#fff"/><rect x="1803" y="63" width="1" height="5" fill="#fff"/><text x="52.5" y="61.0" text-anchor="middle">3625</text><text x="78.6" y="61.0" text-anchor="middle">3650</text><text x="130.7" y="61.0" text-anchor="middle">3700</text><text x="182.8" y="61.0" text-anchor="middle">3750</text><text x="234.9" y="61.0" text-anchor="middle">3800</text><text x="287.0" y="61.0" text-anchor="middle">3850</text><text x="339.2" y="61.0" text-anchor="middle">3900</text><text x="391.3" y="61.0" text-anchor="middle">3950</text><text x="443.4" y="61.0" text-anchor="middle">4000</text><text x="495.5" y="61.0" text-anchor="middle">4050</text><text x="547.6" y="61.0" text-anchor="middle">4100</text><text x="599.7" y="61.0" text-anchor="middle">4150</text><text x="651.9" y="61.0" text-anchor="middle">4200</text><text x="704.0" y="61.0" text-anchor="middle">4250</text><text x="756.1" y="61.0" text-anchor="middle">4300</text><text x="808.2" y="61.0" text-anchor="middle">4350</text><text x="860.3" y="61.0" text-anchor="middle">4400</text><text x="912.5" y="61.0" text-anchor="middle">4450</text><text x="964.6" y="61.0" text-anchor="middle">4500</text><text x="1016.7" y="61.0" text-anchor="middle">4550</text><text x="1068.8" y="61.0" text-anchor="middle">4600</text><text x="1120.9" y="61.0" text-anchor="middle">4650</text><text x="1173.1" y="61.0" text-anchor="middle">4700</text><text x="1225.2" y="61.0" text-anchor="middle">4750</text><text x="1277.3" y="61.0" text-anchor="middle">4800</text><text x="1329.4" y="61.0" text-anchor="middle">4850</text><text x="1381.5" y="61.0" text-anchor="middle">4900</text><text x="1433.7" y="61.0" text-anchor="middle">4950</text><text x="1485.8" y="61.0" text-anchor="middle">5000</text><text x="1537.9" y="61.0" text-anchor="middle">5050</text><text x="1590.0" y="61.0" text-anchor="middle">5100</text><text x="1642.1" y="61.0" text-anchor="middle">5150</text><text x="1694.2" y="61.0" text-anchor="middle">5200</text><text x="1746.4" y="61.0" text-anchor="middle">5250</text><text x="1803.0" y="61.0" text-anchor="middle">5305</text><rect x="45" y="930" width="5" height="1" fill="#fff"/><rect x="1806" y="930" width="5" height="1" fill="#fff"/><text x="43.5" y="933.6" text-anchor="end">0</text><rect x="47" y="919" width="3" height="1" fill="#fff"/><rect x="1806" y="919" width="3" height="1" fill="#fff"/><rect x="45" y="908" width="5" height="1" fill="#fff"/><rect x="1806" y="908" width="5" height="1" fill="#fff"/><text x="43.5" y="911.6" text-anchor="end">5</text><rect x="47" y="898" width="3" height="1" fill="#fff"/><rect x="1806" y="898" width="3" height="1" fill="#fff"/><rect x="45" y="887" width="5" height="1" fill="#fff"/><rect x="1806" y="887" width="5" height="1" fill="#fff"/><text x="43.5" y="890.6" text-anchor="end">10</text><rect x="47" y="876" width="3" height="1" fill="#fff"/><rect x="1806" y="876" width="3" height="1" fill="#fff"/><rect x="45" y="866" width="5" height="1" fill="#fff"/><rect x="1806" y="866" width="5" height="1" fill="#fff"/><text x="43.5" y="869.6" text-anchor="end">15</text><rect x="47" y="855" width="3" height="1" fill="#fff"/><rect x="1806" y="855" width="3" height="1" fill="#fff"/><rect x="45" y="844" width="5" height="1" fill="#fff"/><rect x="1806" y="844" width="5" height="1" fill="#fff"/><text x="43.5" y="847.6" text-anchor="end">20</text><rect x="47" y="833" width="3" height="1" fill="#fff"/><rect x="1806" y="833" width="3" height="1" fill="#fff"/><rect x="45" y="822" width="5" height="1" fill="#fff"/><rect x="1806" y="822" width="5" height="1" fill="#fff"/><text x="43.5" y="825.6" text-anchor="end">25</text><rect x="47" y="812" width="3" height="1" fill="#fff"/><rect x="1806" y="812" width="3" height="1" fill="#fff"/><rect x="45" y="801" width="5" height="1" fill="#fff"/><rect x="1806" y="801" width="5" height="1" fill="#fff"/><text x="43.5" y="804.6" text-anchor="end">30</text><rect x="47" y="790" width="3" height="1" fill="#fff"/><rect x="1806" y="790" width="3" height="1" fill="#fff"/><rect x="45" y="780" width="5" height="1" fill="#fff"/><rect x="1806" y="780" width="5" height="1" fill="#fff"/><text x="43.5" y="783.6" text-anchor="end">35</text><rect x="47" y="769" width="3" height="1" fill="#fff"/><rect x="1806" y="769" width="3" height="1" fill="#fff"/><rect x="45" y="758" width="5" height="1" fill="#fff"/><rect x="1806" y="758" width="5" height="1" fill="#fff"/><text x="43.5" y="761.6" text-anchor="end">40</text><rect x="47" y="747" width="3" height="1" fill="#fff"/><rect x="1806" y="747" width="3" height="1" fill="#fff"/><rect x="45" y="736" width="5" height="1" fill="#fff"/><rect x="1806" y="736" width="5" height="1" fill="#fff"/><text x="43.5" y="739.6" text-anchor="end">45</text><rect x="47" y="726" width="3" height="1" fill="#fff"/><rect x="1806" y="726" width="3" height="1" fill="#fff"/><rect x="45" y="715" width="5" height="1" fill="#fff"/><rect x="1806" y="715" width="5" height="1" fill="#fff"/><text x="43.5" y="718.6" text-anchor="end">50</text><rect x="47" y="704" width="3" height="1" fill="#fff"/><rect x="1806" y="704" width="3" height="1" fill="#fff"/><rect x="45" y="694" width="5" height="1" fill="#fff"/><rect x="1806" y="694" width="5" height="1" fill="#fff"/><text x="43.5" y="697.6" text-anchor="end">55</text><rect x="47" y="683" width="3" height="1" fill="#fff"/><rect x="1806" y="683" width="3" height="1" fill="#fff"/><rect x="45" y="672" width="5" height="1" fill="#fff"/><rect x="1806" y="672" width="5" height="1" fill="#fff"/><text x="43.5" y="675.6" text-anchor="end">60</text><rect x="47" y="661" width="3" height="1" fill="#fff"/><rect x="1806" y="661" width="3" height="1" fill="#fff"/><rect x="45" y="650" width="5" height="1" fill="#fff"/><rect x="1806" y="650" width="5" height="1" fill="#fff"/><text x="43.5" y="653.6" text-anchor="end">65</text><rect x="47" y="640" width="3" height="1" fill="#fff"/><rect x="1806" y="640" width="3" height="1" fill="#fff"/><rect x="45" y="629" width="5" height="1" fill="#fff"/><rect x="1806" y="629" width="5" height="1" fill="#fff"/><text x="43.5" y="632.6" text-anchor="end">70</text><rect x="47" y="618" width="3" height="1" fill="#fff"/><rect x="1806" y="618" width="3" height="1" fill="#fff"/><rect x="45" y="608" width="5" height="1" fill="#fff"/><rect x="1806" y="608" width="5" height="1" fill="#fff"/><text x="43.5" y="611.6" text-anchor="end">75</text><rect x="47" y="597" width="3" height="1" fill="#fff"/><rect x="1806" y="597" width="3" height="1" fill="#fff"/><rect x="45" y="586" width="5" height="1" fill="#fff"/><rect x="1806" y="586" width="5" height="1" fill="#fff"/><text x="43.5" y="589.6" text-anchor="end">80</text><rect x="47" y="575" width="3" height="1" fill="#fff"/><rect x="1806" y="575" width="3" height="1" fill="#fff"/><rect x="45" y="564" width="5" height="1" fill="#fff"/><rect x="1806" y="564" width="5" height="1" fill="#fff"/><text x="43.5" y="567.6" text-anchor="end">85</text><rect x="47" y="554" width="3" height="1" fill="#fff"/><rect x="1806" y="554" width="3" height="1" fill="#fff"/><rect x="45" y="543" width="5" height="1" fill="#fff"/><rect x="1806" y="543" width="5" height="1" fill="#fff"/><text x="43.5" y="546.6" text-anchor="end">90</text><rect x="47" y="532" width="3" height="1" fill="#fff"/><rect x="1806" y="532" width="3" height="1" fill="#fff"/><rect x="45" y="522" width="5" height="1" fill="#fff"/><rect x="1806" y="522" width="5" height="1" fill="#fff"/><text x="43.5" y="525.6" text-anchor="end">95</text><rect x="47" y="511" width="3" height="1" fill="#fff"/><rect x="1806" y="511" width="3" height="1" fill="#fff"/><rect x="45" y="500" width="5" height="1" fill="#fff"/><rect x="1806" y="500" width="5" height="1" fill="#fff"/><text x="43.5" y="503.6" text-anchor="end">100</text><rect x="47" y="489" width="3" height="1" fill="#fff"/><rect x="1806" y="489" width="3" height="1" fill="#fff"/><rect x="45" y="478" width="5" height="1" fill="#fff"/><rect x="1806" y="478" width="5" height="1" fill="#fff"/><text x="43.5" y="481.6" text-anchor="end">105</text><rect x="47" y="468" width="3" height="1" fill="#fff"/><rect x="1806" y="468" width="3" height="1" fill="#fff"/><rect x="45" y="457" width="5" height="1" fill="#fff"/><rect x="1806" y="457" width="5" height="1" fill="#fff"/><text x="43.5" y="460.6" text-anchor="end">110</text><rect x="47" y="446" width="3" height="1" fill="#fff"/><rect x="1806" y="446" width="3" height="1" fill="#fff"/><rect x="45" y="436" width="5" height="1" fill="#fff"/><rect x="1806" y="436" width="5" height="1" fill="#fff"/><text x="43.5" y="439.6" text-anchor="end">115</text><rect x="47" y="425" width="3" height="1" fill="#fff"/><rect x="1806" y="425" width="3" height="1" fill="#fff"/><rect x="45" y="414" width="5" height="1" fill="#fff"/><rect x="1806" y="414" width="5" height="1" fill="#fff"/><text x="43.5" y="417.6" text-anchor="end">120</text><rect x="47" y="403" width="3" height="1" fill="#fff"/><rect x="1806" y="403" width="3" height="1" fill="#fff"/><rect x="45" y="392" width="5" height="1" fill="#fff"/><rect x="1806" y="392" width="5" height="1" fill="#fff"/><text x="43.5" y="395.6" text-anchor="end">125</text><rect x="47" y="382" width="3" height="1" fill="#fff"/><rect x="1806" y="382" width="3" height="1" fill="#fff"/><rect x="45" y="371" width="5" height="1" fill="#fff"/><rect x="1806" y="371" width="5" height="1" fill="#fff"/><text x="43.5" y="374.6" text-anchor="end">130</text><rect x="47" y="360" width="3" height="1" fill="#fff"/><rect x="1806" y="360" width="3" height="1" fill="#fff"/><rect x="45" y="350" width="5" height="1" fill="#fff"/><rect x="1806" y="350" width="5" height="1" fill="#fff"/><text x="43.5" y="353.6" text-anchor="end">135</text><rect x="47" y="339" width="3" height="1" fill="#fff"/><rect x="1806" y="339" width="3" height="1" fill="#fff"/><rect x="45" y="328" width="5" height="1" fill="#fff"/><rect x="1806" y="328" width="5" height="1" fill="#fff"/><text x="43.5" y="331.6" text-anchor="end">140</text><rect x="47" y="317" width="3" height="1" fill="#fff"/><rect x="1806" y="317" width="3" height="1" fill="#fff"/><rect x="45" y="306" width="5" height="1" fill="#fff"/><rect x="1806" y="306" width="5" height="1" fill="#fff"/><text x="43.5" y="309.6" text-anchor="end">145</text><rect x="47" y="296" width="3" height="1" fill="#fff"/><rect x="1806" y="296" width="3" height="1" fill="#fff"/><rect x="45" y="285" width="5" height="1" fill="#fff"/><rect x="1806" y="285" width="5" height="1" fill="#fff"/><text x="43.5" y="288.6" text-anchor="end">150</text><rect x="47" y="274" width="3" height="1" fill="#fff"/><rect x="1806" y="274" width="3" height="1" fill="#fff"/><rect x="45" y="264" width="5" height="1" fill="#fff"/><rect x="1806" y="264" width="5" height="1" fill="#fff"/><text x="43.5" y="267.6" text-anchor="end">155</text><rect x="47" y="253" width="3" height="1" fill="#fff"/><rect x="1806" y="253" width="3" height="1" fill="#fff"/><rect x="45" y="242" width="5" height="1" fill="#fff"/><rect x="1806" y="242" width="5" height="1" fill="#fff"/><text x="43.5" y="245.6" text-anchor="end">160</text><rect x="47" y="231" width="3" height="1" fill="#fff"/><rect x="1806" y="231" width="3" height="1" fill="#fff"/><rect x="45" y="220" width="5" height="1" fill="#fff"/><rect x="1806" y="220" width="5" height="1" fill="#fff"/><text x="43.5" y="223.6" text-anchor="end">165</text><rect x="47" y="210" width="3" height="1" fill="#fff"/><rect x="1806" y="210" width="3" height="1" fill="#fff"/><rect x="45" y="199" width="5" height="1" fill="#fff"/><rect x="1806" y="199" width="5" height="1" fill="#fff"/><text x="43.5" y="202.6" text-anchor="end">170</text><rect x="47" y="188" width="3" height="1" fill="#fff"/><rect x="1806" y="188" width="3" height="1" fill="#fff"/><rect x="45" y="178" width="5" height="1" fill="#fff"/><rect x="1806" y="178" width="5" height="1" fill="#fff"/><text x="43.5" y="181.6" text-anchor="end">175</text><rect x="47" y="167" width="3" height="1" fill="#fff"/><rect x="1806" y="167" width="3" height="1" fill="#fff"/><rect x="45" y="156" width="5" height="1" fill="#fff"/><rect x="1806" y="156" width="5" height="1" fill="#fff"/><text x="43.5" y="159.6" text-anchor="end">180</text><rect x="47" y="145" width="3" height="1" fill="#fff"/><rect x="1806" y="145" width="3" height="1" fill="#fff"/><rect x="45" y="134" width="5" height="1" fill="#fff"/><rect x="1806" y="134" width="5" height="1" fill="#fff"/><text x="43.5" y="137.6" text-anchor="end">185</text><rect x="47" y="124" width="3" height="1" fill="#fff"/><rect x="1806" y="124" width="3" height="1" fill="#fff"/><rect x="45" y="113" width="5" height="1" fill="#fff"/><rect x="1806" y="113" width="5" height="1" fill="#fff"/><text x="43.5" y="116.6" text-anchor="end">190</text><rect x="47" y="102" width="3" height="1" fill="#fff"/><rect x="1806" y="102" width="3" height="1" fill="#fff"/><rect x="45" y="92" width="5" height="1" fill="#fff"/><rect x="1806" y="92" width="5" height="1" fill="#fff"/><text x="43.5" y="95.6" text-anchor="end">195</text><rect x="47" y="81" width="3" height="1" fill="#fff"/><rect x="1806" y="81" width="3" height="1" fill="#fff"/><rect x="45" y="70" width="5" height="1" fill="#fff"/><rect x="1806" y="70" width="5" height="1" fill="#fff"/><text x="43.5" y="73.6" text-anchor="end">200</text><rect x="52" y="933" width="1" height="5" fill="#fff"/><rect x="53" y="933" width="1" height="3" fill="#fff"/><rect x="59" y="933" width="1" height="3" fill="#fff"/><rect x="66" y="933" width="1" height="3" fill="#fff"/><rect x="72" y="933" width="1" height="3" fill="#fff"/><rect x="78" y="933" width="1" height="3" fill="#fff"/><rect x="85" y="933" width="1" height="3" fill="#fff"/><rect x="91" y="933" width="1" height="3" fill="#fff"/><rect x="97" y="933" width="1" height="3" fill="#fff"/><rect x="104" y="933" width="1" height="3" fill="#fff"/><rect x="110" y="933" width="1" height="3" fill="#fff"/><rect x="117" y="933" width="1" height="5" fill="#fff"/><rect x="123" y="933" width="1" height="3" fill="#fff"/><rect x="129" y="933" width="1" height="3" fill="#fff"/><rect x="136" y="933" width="1" height="3" fill="#fff"/><rect x="142" y="933" width="1" height="3" fill="#fff"/><rect x="148" y="933" width="1" height="3" fill="#fff"/><rect x="155" y="933" width="1" height="3" fill="#fff"/><rect x="161" y="933" width="1" height="3" fill="#fff"/><rect x="167" y="933" width="1" height="3" fill="#fff"/><rect x="174" y="933" width="1" height="3" fill="#fff"/><rect x="180" y="933" width="1" height="3" fill="#fff"/><rect x="186" y="933" width="1" height="3" fill="#fff"/><rect x="193" y="933" width="1" height="5" fill="#fff"/><rect x="199" y="933" width="1" height="3" fill="#fff"/><rect x="206" y="933" width="1" height="3" fill="#fff"/><rect x="212" y="933" width="1" height="3" fill="#fff"/><rect x="218" y="933" width="1" height="3" fill="#fff"/><rect x="225" y="933" width="1" height="3" fill="#fff"/><rect x="231" y="933" width="1" height="3" fill="#fff"/><rect x="237" y="933" width="1" height="3" fill="#fff"/><rect x="244" y="933" width="1" height="3" fill="#fff"/><rect x="250" y="933" width="1" height="3" fill="#fff"/><rect x="256" y="933" width="1" height="3" fill="#fff"/><rect x="263" y="933" width="1" height="3" fill="#fff"/><rect x="269" y="933" width="1" height="5" fill="#fff"/><rect x="276" y="933" width="1" height="3" fill="#fff"/><rect x="282" y="933" width="1" height="3" fill="#fff"/><rect x="288" y="933" width="1" height="3" fill="#fff"/><rect x="295" y="933" width="1" height="3" fill="#fff"/><rect x="301" y="933" width="1" height="3" fill="#fff"/><rect x="307" y="933" width="1" height="3" fill="#fff"/><rect x="314" y="933" width="1" height="3" fill="#fff"/><rect x="320" y="933" width="1" height="3" fill="#fff"/><rect x="326" y="933" width="1" height="3" fill="#fff"/><rect x="333" y="933" width="1" height="3" fill="#fff"/><rect x="339" y="933" width="1" height="3" fill="#fff"/><rect x="346" y="933" width="1" height="5" fill="#fff"/><rect x="352" y="933" width="1" height="3" fill="#fff"/><rect x="358" y="933" width="1" height="3" fill="#fff"/><rect x="365" y="933" width="1" height="3" fill="#fff"/><rect x="371" y="933" width="1" height="3" fill="#fff"/><rect x="377" y="933" width="1" height="3" fill="#fff"/><rect x="384" y="933" width="1" height="3" fill="#fff"/><rect x="390" y="933" width="1" height="3" fill="#fff"/><rect x="396" y="933" width="1" height="3" fill="#fff"/><rect x="403" y="933" width="1" height="3" fill="#fff"/><rect x="409" y="933" width="1" height="3" fill="#fff"/><rect x="416" y="933" width="1" height="3" fill="#fff"/><rect x="422" y="933" width="1" height="5" fill="#fff"/><rect x="428" y="933" width="1" height="3" fill="#fff"/><rect x="435" y="933" width="1" height="3" fill="#fff"/><rect x="441" y="933" width="1" height="3" fill="#fff"/><rect x="447" y="933" width="1" height="3" fill="#fff"/><rect x="454" y="933" width="1" height="3" fill="#fff"/><rect x="460" y="933" width="1" height="3" fill="#fff"/><rect x="466" y="933" width="1" height="3" fill="#fff"/><rect x="473" y="933" width="1" height="3" fill="#fff"/><rect x="479" y="933" width="1" height="3" fill="#fff"/><rect x="486" y="933" width="1" height="3" fill="#fff"/><rect x="492" y="933" width="1" height="3" fill="#fff"/><rect x="498" y="933" width="1" height="5" fill="#fff"/><rect x="505" y="933" width="1" height="3" fill="#fff"/><rect x="511" y="933" width="1" height="3" fill="#fff"/><rect x="517" y="933" width="1" height="3" fill="#fff"/><rect x="524" y="933" width="1" height="3" fill="#fff"/><rect x="530" y="933" width="1" height="3" fill="#fff"/><rect x="536" y="933" width="1" height="3" fill="#fff"/><rect x="543" y="933" width="1" height="3" fill="#fff"/><rect x="549" y="933" width="1" height="3" fill="#fff"/><rect x="556" y="933" width="1" height="3" fill="#fff"/><rect x="562" y="933" width="1" height="3" fill="#fff"/><rect x="568" y="933" width="1" height="3" fill="#fff"/><rect x="575" y="933" width="1" height="5" fill="#fff"/><rect x="581" y="933" width="1" height="3" fill="#fff"/><rect x="587" y="933" width="1" height="3" fill="#fff"/><rect x="594" y="933" width="1" height="3" fill="#fff"/><rect x="600" y="933" width="1" height="3" fill="#fff"/><rect x="606" y="933" width="1" height="3" fill="#fff"/><rect x="613" y="933" width="1" height="3" fill="#fff"/><rect x="619" y="933" width="1" height="3" fill="#fff"/><rect x="625" y="933" width="1" height="3" fill="#fff"/><rect x="632" y="933" width="1" height="3" fill="#fff"/><rect x="638" y="933" width="1" height="3" fill="#fff"/><rect x="645" y="933" width="1" height="3" fill="#fff"/><rect x="651" y="933" width="1" height="5" fill="#fff"/><rect x="657" y="933" width="1" height="3" fill="#fff"/><rect x="664" y="933" width="1" height="3" fill="#fff"/><rect x="670" y="933" width="1" height="3" fill="#fff"/><rect x="676" y="933" width="1" height="3" fill="#fff"/><rect x="683" y="933" width="1" height="3" fill="#fff"/><rect x="689" y="933" width="1" height="3" fill="#fff"/><rect x="695" y="933" width="1" height="3" fill="#fff"/><rect x="702" y="933" width="1" height="3" fill="#fff"/><rect x="708" y="933" width="1" height="3" fill="#fff"/><rect x="715" y="933" width="1" height="3" fill="#fff"/><rect x="721" y="933" width="1" height="3" fill="#fff"/><rect x="727" y="933" width="1" height="5" fill="#fff"/><rect x="734" y="933" width="1" height="3" fill="#fff"/><rect x="740" y="933" width="1" height="3" fill="#fff"/><rect x="746" y="933" width="1" height="3" fill="#fff"/><rect x="753" y="933" width="1" height="3" fill="#fff"/><rect x="759" y="933" width="1" height="3" fill="#fff"/><rect x="765" y="933" width="1" height="3" fill="#fff"/><rect x="772" y="933" width="1" height="3" fill="#fff"/><rect x="778" y="933" width="1" height="3" fill="#fff"/><rect x="785" y="933" width="1" height="3" fill="#fff"/><rect x="791" y="933" width="1" height="3" fill="#fff"/><rect x="797" y="933" width="1" height="3" fill="#fff"/><rect x="804" y="933" width="1" height="5" fill="#fff"/><rect x="810" y="933" width="1" height="3" fill="#fff"/><rect x="816" y="933" width="1" height="3" fill="#fff"/><rect x="823" y="933" width="1" height="3" fill="#fff"/><rect x="829" y="933" width="1" height="3" fill="#fff"/><rect x="835" y="933" width="1" height="3" fill="#fff"/><rect x="842" y="933" width="1" height="3" fill="#fff"/><rect x="848" y="933" width="1" height="3" fill="#fff"/><rect x="855" y="933" width="1" height="3" fill="#fff"/><rect x="861" y="933" width="1" height="3" fill="#fff"/><rect x="867" y="933" width="1" height="3" fill="#fff"/><rect x="874" y="933" width="1" height="3" fill="#fff"/><rect x="880" y="933" width="1" height="5" fill="#fff"/><rect x="886" y="933" width="1" height="3" fill="#fff"/><rect x="893" y="933" width="1" height="3" fill="#fff"/><rect x="899" y="933" width="1" height="3" fill="#fff"/><rect x="905" y="933" width="1" height="3" fill="#fff"/><rect x="912" y="933" width="1" height="3" fill="#fff"/><rect x="918" y="933" width="1" height="3" fill="#fff"/><rect x="925" y="933" width="1" height="3" fill="#fff"/><rect x="931" y="933" width="1" height="3" fill="#fff"/><rect x="937" y="933" width="1" height="3" fill="#fff"/><rect x="944" y="933" width="1" height="3" fill="#fff"/><rect x="950" y="933" width="1" height="3" fill="#fff"/><rect x="956" y="933" width="1" height="5" fill="#fff"/><rect x="963" y="933" width="1" height="3" fill="#fff"/><rect x="969" y="933" width="1" height="3" fill="#fff"/><rect x="975" y="933" width="1" height="3" fill="#fff"/><rect x="982" y="933" width="1" height="3" fill="#fff"/><rect x="988" y="933" width="1" height="3" fill="#fff"/><rect x="994" y="933" width="1" height="3" fill="#fff"/><rect x="1001" y="933" width="1" height="3" fill="#fff"/><rect x="1007" y="933" width="1" height="3" fill="#fff"/><rect x="1014" y="933" width="1" height="3" fill="#fff"/><rect x="1020" y="933" width="1" height="3" fill="#fff"/><rect x="1026" y="933" width="1" height="3" fill="#fff"/><rect x="1033" y="933" width="1" height="5" fill="#fff"/><rect x="1039" y="933" width="1" height="3" fill="#fff"/><rect x="1045" y="933" width="1" height="3" fill="#fff"/><rect x="1052" y="933" width="1" height="3" fill="#fff"/><rect x="1058" y="933" width="1" height="3" fill="#fff"/><rect x="1064" y="933" width="1" height="3" fill="#fff"/><rect x="1071" y="933" width="1" height="3" fill="#fff"/><rect x="1077" y="933" width="1" height="3" fill="#fff"/><rect x="1084" y="933" width="1" height="3" fill="#fff"/><rect x="1090" y="933" width="1" height="3" fill="#fff"/><rect x="1096" y="933" width="1" height="3" fill="#fff"/><rect x="1103" y="933" width="1" height="3" fill="#fff"/><rect x="1109" y="933" width="1" height="5" fill="#fff"/><rect x="1115" y="933" width="1" height="3" fill="#fff"/><rect x="1122" y="933" width="1" height="3" fill="#fff"/><rect x="1128" y="933" width="1" height="3" fill="#fff"/><rect x="1134" y="933" width="1" height="3" fill="#fff"/><rect x="1141" y="933" width="1" height="3" fill="#fff"/><rect x="1147" y="933" width="1" height="3" fill="#fff"/><rect x="1154" y="933" width="1" height="3" fill="#fff"/><rect x="1160" y="933" width="1" height="3" fill="#fff"/><rect x="1166" y="933" width="1" height="3" fill="#fff"/><rect x="1173" y="933" width="1" height="3" fill="#fff"/><rect x="1179" y="933" width="1" height="3" fill="#fff"/><rect x="1185" y="933" width="1" height="5" fill="#fff"/><rect x="1192" y="933" width="1" height="3" fill="#fff"/><rect x="1198" y="933" width="1" height="3" fill="#fff"/><rect x="1204" y="933" width="1" height="3" fill="#fff"/><rect x="1211" y="933" width="1" height="3" fill="#fff"/><rect x="1217" y="933" width="1" height="3" fill="#fff"/><rect x="1224" y="933" width="1" height="3" fill="#fff"/><rect x="1230" y="933" width="1" height="3" fill="#fff"/><rect x="1236" y="933" width="1" height="3" fill="#fff"/><rect x="1243" y="933" width="1" height="3" fill="#fff"/><rect x="1249" y="933" width="1" height="3" fill="#fff"/><rect x="1255" y="933" width="1" height="3" fill="#fff"/><rect x="1262" y="933" width="1" height="5" fill="#fff"/><rect x="1268" y="933" width="1" height="3" fill="#fff"/><rect x="1274" y="933" width="1" height="3" fill="#fff"/><rect x="1281" y="933" width="1" height="3" fill="#fff"/><rect x="1287" y="933" width="1" height="3" fill="#fff"/><rect x="1294" y="933" width="1" height="3" fill="#fff"/><rect x="1300" y="933" width="1" height="3" fill="#fff"/><rect x="1306" y="933" width="1" height="3" fill="#fff"/><rect x="1313" y="933" width="1" height="3" fill="#fff"/><rect x="1319" y="933" width="1" height="3" fill="#fff"/><rect x="1325" y="933" width="1" height="3" fill="#fff"/><rect x="1332" y="933" width="1" height="3" fill="#fff"/><rect x="1338" y="933" width="1" height="5" fill="#fff"/><rect x="1344" y="933" width="1" height="3" fill="#fff"/><rect x="1351" y="933" width="1" height="3" fill="#fff"/><rect x="1357" y="933" width="1" height="3" fill="#fff"/><rect x="1364" y="933" width="1" height="3" fill="#fff"/><rect x="1370" y="933" width="1" height="3" fill="#fff"/><rect x="1376" y="933" width="1" height="3" fill="#fff"/><rect x="1383" y="933" width="1" height="3" fill="#fff"/><rect x="1389" y="933" width="1" height="3" fill="#fff"/><rect x="1395" y="933" width="1" height="3" fill="#fff"/><rect x="1402" y="933" width="1" height="3" fill="#fff"/><rect x="1408" y="933" width="1" height="3" fill="#fff"/><rect x="1414" y="933" width="1" height="5" fill="#fff"/><rect x="1421" y="933" width="1" height="3" fill="#fff"/><rect x="1427" y="933" width="1" height="3" fill="#fff"/><rect x="1433" y="933" width="1" height="3" fill="#fff"/><rect x="1440" y="933" width="1" height="3" fill="#fff"/><rect x="1446" y="933" width="1" height="3" fill="#fff"/><rect x="1453" y="933" width="1" height="3" fill="#fff"/><rect x="1459" y="933" width="1" height="3" fill="#fff"/><rect x="1465" y="933" width="1" height="3" fill="#fff"/><rect x="1472" y="933" width="1" height="3" fill="#fff"/><rect x="1478" y="933" width="1" height="3" fill="#fff"/><rect x="1484" y="933" width="1" height="3" fill="#fff"/><rect x="1491" y="933" width="1" height="5" fill="#fff"/><rect x="1497" y="933" width="1" height="3" fill="#fff"/><rect x="1503" y="933" width="1" height="3" fill="#fff"/><rect x="1510" y="933" width="1" height="3" fill="#fff"/><rect x="1516" y="933" width="1" height="3" fill="#fff"/><rect x="1523" y="933" width="1" height="3" fill="#fff"/><rect x="1529" y="933" width="1" height="3" fill="#fff"/><rect x="1535" y="933" width="1" height="3" fill="#fff"/><rect x="1542" y="933" width="1" height="3" fill="#fff"/><rect x="1548" y="933" width="1" height="3" fill="#fff"/><rect x="1554" y="933" width="1" height="3" fill="#fff"/><rect x="1561" y="933" width="1" height="3" fill="#fff"/><rect x="1567" y="933" width="1" height="5" fill="#fff"/><rect x="1573" y="933" width="1" height="3" fill="#fff"/><rect x="1580" y="933" width="1" height="3" fill="#fff"/><rect x="1586" y="933" width="1" height="3" fill="#fff"/><rect x="1593" y="933" width="1" height="3" fill="#fff"/><rect x="1599" y="933" width="1" height="3" fill="#fff"/><rect x="1605" y="933" width="1" height="3" fill="#fff"/><rect x="1612" y="933" width="1" height="3" fill="#fff"/><rect x="1618" y="933" width="1" height="3" fill="#fff"/><rect x="1624" y="933" width="1" height="3" fill="#fff"/><rect x="1631" y="933" width="1" height="3" fill="#fff"/><rect x="1637" y="933" width="1" height="3" fill="#fff"/><rect x="1643" y="933" width="1" height="5" fill="#fff"/><rect x="1650" y="933" width="1" height="3" fill="#fff"/><rect x="1656" y="933" width="1" height="3" fill="#fff"/><rect x="1663" y="933" width="1" height="3" fill="#fff"/><rect x="1669" y="933" width="1" height="3" fill="#fff"/><rect x="1675" y="933" width="1" height="3" fill="#fff"/><rect x="1682" y="933" width="1" height="3" fill="#fff"/><rect x="1688" y="933" width="1" height="3" fill="#fff"/><rect x="1694" y="933" width="1" height="3" fill="#fff"/><rect x="1701" y="933" width="1" height="3" fill="#fff"/><rect x="1707" y="933" width="1" height="3" fill="#fff"/><rect x="1713" y="933" width="1" height="3" fill="#fff"/><rect x="1720" y="933" width="1" height="5" fill="#fff"/><rect x="1726" y="933" width="1" height="3" fill="#fff"/><rect x="1733" y="933" width="1" height="3" fill="#fff"/><rect x="1739" y="933" width="1" height="3" fill="#fff"/><rect x="1745" y="933" width="1" height="3" fill="#fff"/><rect x="1752" y="933" width="1" height="3" fill="#fff"/><rect x="1758" y="933" width="1" height="3" fill="#fff"/><rect x="1764" y="933" width="1" height="3" fill="#fff"/><rect x="1771" y="933" width="1" height="3" fill="#fff"/><rect x="1777" y="933" width="1" height="3" fill="#fff"/><rect x="1783" y="933" width="1" height="3" fill="#fff"/><rect x="1790" y="933" width="1" height="3" fill="#fff"/><rect x="1796" y="933" width="1" height="5" fill="#fff"/><rect x="1803" y="933" width="1" height="3" fill="#fff"/><rect x="1803" y="933" width="1" height="5" fill="#fff"/><rect x="1802" y="933" width="1" height="3" fill="#fff"/><text x="52.5" y="947.6" text-anchor="middle">00:35:46.328</text><text x="52.5" y="960.0" text-anchor="middle">02/26/2026</text><text x="117.2" y="947.6" text-anchor="middle">00:40:00.000</text><text x="116.9" y="960.0" text-anchor="middle">02/26/2026</text><text x="193.5" y="947.6" text-anchor="middle">00:45:00.000</text><text x="193.2" y="960.0" text-anchor="middle">02/26/2026</text><text x="269.9" y="947.6" text-anchor="middle">00:50:00.000</text><text x="269.6" y="960.0" text-anchor="middle">02/26/2026</text><text x="346.2" y="947.6" text-anchor="middle">00:55:00.000</text><text x="345.9" y="960.0" text-anchor="middle">02/26/2026</text><text x="422.5" y="947.6" text-anchor="middle">01:00:00.000</text><text x="422.2" y="960.0" text-anchor="middle">02/26/2026</text><text x="498.9" y="947.6" text-anchor="middle">01:05:00.000</text><text x="498.6" y="960.0" text-anchor="middle">02/26/2026</text><text x="575.2" y="947.6" text-anchor="middle">01:10:00.000</text><text x="574.9" y="960.0" text-anchor="middle">02/26/2026</text><text x="651.6" y="947.6" text-anchor="middle">01:15:00.000</text><text x="651.3" y="960.0" text-anchor="middle">02/26/2026</text><text x="727.9" y="947.6" text-anchor="middle">01:20:00.000</text><text x="727.6" y="960.0" text-anchor="middle">02/26/2026</text><text x="804.3" y="947.6" text-anchor="middle">01:25:00.000</text><text x="804.0" y="960.0" text-anchor="middle">02/26/2026</text><text x="880.6" y="947.6" text-anchor="middle">01:30:00.000</text><text x="880.3" y="960.0" text-anchor="middle">02/26/2026</text><text x="957.0" y="947.6" text-anchor="middle">01:35:00.000</text><text x="956.7" y="960.0" text-anchor="middle">02/26/2026</text><text x="1033.3" y="947.6" text-anchor="middle">01:40:00.000</text><text x="1033.0" y="960.0" text-anchor="middle">02/26/2026</text><text x="1109.7" y="947.6" text-anchor="middle">01:45:00.000</text><text x="1109.4" y="960.0" text-anchor="middle">02/26/2026</text><text x="1186.0" y="947.6" text-anchor="middle">01:50:00.000</text><text x="1185.7" y="960.0" text-anchor="middle">02/26/2026</text><text x="1262.4" y="947.6" text-anchor="middle">01:55:00.000</text><text x="1262.1" y="960.0" text-anchor="middle">02/26/2026</text><text x="1338.7" y="947.6" text-anchor="middle">02:00:00.000</text><text x="1338.4" y="960.0" text-anchor="middle">02/26/2026</text><text x="1415.1" y="947.6" text-anchor="middle">02:05:00.000</text><text x="1414.8" y="960.0" text-anchor="middle">02/26/2026</text><text x="1491.4" y="947.6" text-anchor="middle">02:10:00.000</text><text x="1491.1" y="960.0" text-anchor="middle">02/26/2026</text><text x="1567.7" y="947.6" text-anchor="middle">02:15:00.000</text><text x="1567.4" y="960.0" text-anchor="middle">02/26/2026</text><text x="1644.1" y="947.6" text-anchor="middle">02:20:00.000</text><text x="1643.8" y="960.0" text-anchor="middle">02/26/2026</text><text x="1720.4" y="947.6" text-anchor="middle">02:25:00.000</text><text x="1720.1" y="960.0" text-anchor="middle">02/26/2026</text><text x="1803.0" y="947.6" text-anchor="middle">02:30:27.608</text><text x="1803.0" y="960.0" text-anchor="middle">02/26/2026</text><text x="915.2" y="974" textLength="20" lengthAdjust="spacingAndGlyphs">Time</text><text x="808.6" y="16.0" font-weight="bold" textLength="22.9" lengthAdjust="spacing">AOS</text><text x="837.8" y="16.0" font-weight="bold" textLength="19.5" lengthAdjust="spacing">Thu</text><text x="859.4" y="16.0" font-weight="bold" textLength="12.2" lengthAdjust="spacing">26</text><text x="875.5" y="16.0" font-weight="bold" textLength="17.7" lengthAdjust="spacing">Feb</text><text x="895.3" y="16.0" font-weight="bold" textLength="24.0" lengthAdjust="spacing">2026</text><text x="922.5" y="16.0" font-weight="bold" textLength="41.3" lengthAdjust="spacing">02:30:11</text><text x="970.3" y="16.0" font-weight="bold" textLength="23.2" lengthAdjust="spacing">AOS</text><text x="717.2" y="28.0" font-weight="bold" textLength="104.9" lengthAdjust="spacing">CoordSystem:121f05</text><text x="831.3" y="28.0" font-weight="bold" textLength="82.2" lengthAdjust="spacing">SensorID:121f05</text><text x="925.6" y="28.0" font-weight="bold" textLength="47.9" lengthAdjust="spacing">Axis:sum</text><text x="986.0" y="28.0" font-weight="bold" textLength="97.8" lengthAdjust="spacing">Windowing:Hanning</text><text x="618.5" y="40.2" font-weight="bold" textLength="77.8" lengthAdjust="spacing">Cuttoff(Hz):200</text><text x="714.4" y="40.2" font-weight="bold" textLength="66.6" lengthAdjust="spacing">df(Hz):0.2441</text><text x="799.2" y="40.2" font-weight="bold" textLength="80.3" lengthAdjust="spacing">Sample/Sec:500</text><text x="900.0" y="40.2" font-weight="bold" textLength="72.4" lengthAdjust="spacing">PSD size:2048</text><text x="993.3" y="40.2" font-weight="bold" textLength="64.3" lengthAdjust="spacing">Overlap(%):0</text><text x="1081.9" y="40.2" font-weight="bold" textLength="101.5" lengthAdjust="spacing">TimeRes.(sec):4.096</text><text x="1868.5" y="82.5" text-anchor="start">-5.00</text><text x="1868.5" y="511.5" text-anchor="start">-9.00</text><text x="1868.5" y="939.0" text-anchor="start">-13.00</text><text transform="translate(1908,507.5) rotate(90)" text-anchor="middle">Amplitude(Log10(g^2/Hz))</text>
</svg>
</body></html>
